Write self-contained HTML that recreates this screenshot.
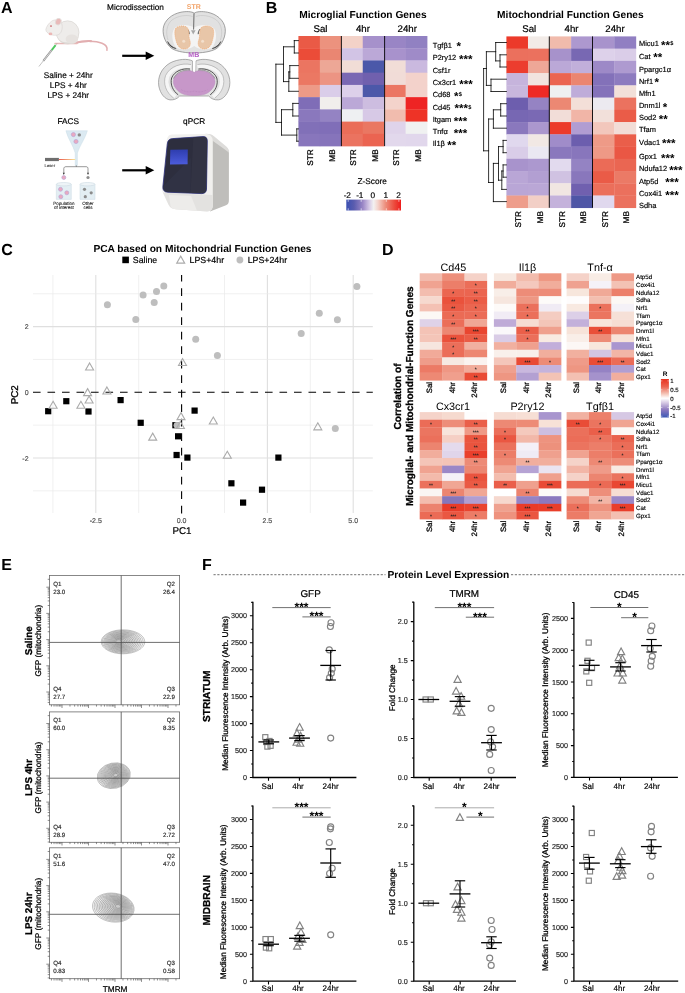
<!DOCTYPE html>
<html lang="en"><head><meta charset="utf-8"><title>Figure</title>
<style>
html,body{margin:0;padding:0;background:#fff}
svg{display:block}
text{font-family:"Liberation Sans",sans-serif;text-rendering:geometricPrecision}
</style></head><body>
<svg width="685" height="993" viewBox="0 0 685 993">
<rect width="685" height="993" fill="#fff"/>
<text x="1.00" y="13.43" font-size="16" font-weight="700">A</text>
<text x="135.50" y="10.45" font-size="8.25" text-anchor="middle" stroke="#000" stroke-width="0.181">Microdissection</text>
<g><path d="M75 43 C84 40.3 96 40.8 102 43.3 C106 45 107.6 47.5 106.9 50.2" fill="none" stroke="#E2AEB0" stroke-width="1.5" stroke-linecap="round"/><path d="M75 43 C80 41.5 86 40.9 91 41.1" fill="none" stroke="#E2AEB0" stroke-width="2.1" stroke-linecap="round"/><path d="M55 43.6 L77 43.6" stroke="#E6B9B7" stroke-width="1.5" stroke-linecap="round"/><ellipse cx="67.6" cy="32.4" rx="11.4" ry="11.6" fill="#EEECEA" stroke="#CFCAC6" stroke-width="0.5"/><path d="M57.5 38 C60 43 66 44.4 72 44 C76 43.6 78.5 40 78.9 35 C78 40 74 42.5 68 42.6 C63 42.6 59.5 41 57.5 38 Z" fill="#DCD7D3"/><ellipse cx="71.8" cy="39" rx="6.2" ry="4.6" fill="#E6E2DF"/><path d="M45.8 29.8 C46 27.2 48.6 23 52 20.9 C55 19.2 59 19.6 61 22.2 C63 25.2 62.4 31 60 33.6 C57 36 52.4 35.6 49.8 34.2 C47.6 33 45.8 31.6 45.8 29.8 Z" fill="#F0EEEC" stroke="#CFCAC6" stroke-width="0.45"/><ellipse cx="58.3" cy="21.7" rx="2.7" ry="3.3" fill="#E9BAB9" stroke="#E2DBD8" stroke-width="0.9" transform="rotate(25 58.3 21.7)"/><circle cx="51" cy="26" r="0.85" fill="#C8545A"/><ellipse cx="50.5" cy="33.9" rx="1.9" ry="1.35" fill="#EBB7B5"/><line x1="38.9" y1="66.5" x2="43.3" y2="60.9" stroke="#9A9A9A" stroke-width="0.6"/><line x1="43.3" y1="60.9" x2="51.7" y2="50.2" stroke="#8E8E8E" stroke-width="1.9"/><line x1="43.6" y1="60.5" x2="51.5" y2="50.5" stroke="#DADADA" stroke-width="1.0"/><line x1="51.7" y1="50.2" x2="55.600" y2="45.200" stroke="#4FC85F" stroke-width="1.9"/><line x1="55.600" y1="45.200" x2="57" y2="43.400" stroke="#909090" stroke-width="0.6"/></g>
<text x="68.30" y="77.55" font-size="8.25" text-anchor="middle" stroke="#000" stroke-width="0.181">Saline + 24hr</text>
<text x="68.30" y="87.60" font-size="8.25" text-anchor="middle" stroke="#000" stroke-width="0.181">LPS + 4hr</text>
<text x="68.30" y="97.65" font-size="8.25" text-anchor="middle" stroke="#000" stroke-width="0.181">LPS + 24hr</text>
<line x1="122.2" y1="55.8" x2="148.3" y2="55.8" stroke="#000" stroke-width="2.2"/><path d="M154.3 55.8 L145.70000000000002 51.599999999999994 L145.70000000000002 60.0 Z" fill="#000"/>
<line x1="122.2" y1="170.3" x2="148.3" y2="170.3" stroke="#000" stroke-width="2.2"/><path d="M154.3 170.3 L145.70000000000002 166.10000000000002 L145.70000000000002 174.5 Z" fill="#000"/>
<text x="193.80" y="9.11" font-size="7" text-anchor="middle" font-weight="700" fill="#F2A267">STR</text>
<g><path d="M 194.2 13.2 C 192 11.4 186 11.2 181 12.2 C 172 14 164.3 20 163.2 28.5 C 162.4 36 166 44 171.5 48.3 C 177 52 188 53.2 194.2 52.8 C 200.4 53.2 211.4 52 216.9 48.3 C 222.4 44 226 36 225.2 28.5 C 224.1 20 216.4 14 207.4 12.2 C 202.4 11.2 196.4 11.4 194.2 13.2 Z" fill="#E1E1E1" stroke="#7E7E7E" stroke-width="0.7"/><path d="M 192.6 16.5 C 187 14.5 178 15.5 172 20 C 166.5 24.5 165.5 33 168 40" fill="none" stroke="#BDBDBD" stroke-width="0.5"/><path d="M 195.8 16.5 C 201.4 14.5 210.4 15.5 216.4 20 C 221.9 24.5 222.9 33 220.4 40" fill="none" stroke="#BDBDBD" stroke-width="0.5"/><path d="M 194.2 27.5 C 189 24.2 178.5 23.5 174.3 28.5 C 171 33.5 172 43 176.5 48 C 182 51.8 190 51.5 194.2 51 C 198.4 51.5 206.4 51.8 211.9 48 C 216.4 43 217.4 33.5 214.1 28.5 C 209.9 23.5 199.4 24.2 194.2 27.5 Z" fill="#F4F4F4"/><path d="M 176.5 48.3 C 182 51.8 190 52 194.2 51.6 C 198.4 52 206.4 51.8 211.9 48.3 C 206 50 199 50 194.2 46 C 189.4 50 182.4 50 176.5 48.3 Z" fill="#E2E2E2"/><line x1="194" y1="13.4" x2="193.6" y2="29.6" stroke="#4A4A4A" stroke-width="0.8"/><path d="M 167.6 41.5 C 169.5 45 172.5 47.3 176.2 48.6 C 172.6 48.2 168.6 45.6 167.6 41.5 Z" fill="#3C3C3C" stroke="#3C3C3C" stroke-width="0.5"/><path d="M 220.8 41.5 C 218.9 45 215.9 47.3 212.2 48.6 C 215.8 48.2 219.8 45.6 220.8 41.5 Z" fill="#3C3C3C" stroke="#3C3C3C" stroke-width="0.5"/><path d="M 187.2 29 C 188.6 30.5 189.3 32.5 189.2 34.2" fill="none" stroke="#3A3A3A" stroke-width="0.9"/><path d="M 200.2 29 C 198.8 30.5 198.1 32.5 198.2 34.2" fill="none" stroke="#3A3A3A" stroke-width="0.9"/><path d="M 191 30.2 L 193.2 34.4 L 195.6 30.2 Z" fill="#A8A8A8"/><path d="M 175.6 28.6 C 177.5 25.6 184.5 25 187.2 27.6 C 189.8 30.5 188.2 35.5 189.6 39.5 C 191.2 44 190.2 48.3 185.2 49 C 180.8 49.4 177.8 46.6 176.5 42 C 175.2 37.5 174 32 175.6 28.6 Z" fill="#E8C6A8" stroke="#F0A468" stroke-width="0.7" stroke-dasharray="1.1 0.9"/><path d="M 212.9 28.6 C 211 25.6 204 25 201.300 27.600 C 198.700 30.500 200.300 35.500 198.900 39.500 C 197.300 44 198.300 48.300 203.300 49 C 207.700 49.400 210.700 46.600 212 42 C 213.300 37.500 214.500 32 212.900 28.600 Z" fill="#E8C6A8" stroke="#F0A468" stroke-width="0.7" stroke-dasharray="1.1 0.9"/><circle cx="183.700" cy="41.300" r="1.500" fill="#F3DFCC"/><circle cx="202.600" cy="41.300" r="1.500" fill="#F3DFCC"/></g>
<text x="193.80" y="57.41" font-size="7" text-anchor="middle" font-weight="700" fill="#B45CC4">MB</text>
<g><path d="M 192.6 61 C 188 58.4 178 58.8 170 63 C 161.500 68 157.400 77 158.800 86 C 160.300 94 165 99.200 170 99.900 C 174 100.200 177.600 98.600 179.600 96 L 208.800 96 C 210.800 98.600 214.400 100.200 218.400 99.900 C 223.400 99.200 228.100 94 229.600 86 C 231 77 226.900 68 218.400 63 C 210.400 58.800 200.400 58.400 195.800 61 L 195.600 73 L 192.800 73 Z" fill="#E1E1E1" stroke="#8E8E8E" stroke-width="0.7"/><path d="M 192.9 60.800 L 195.500 60.800 L 195.300 72 L 193.100 72 Z" fill="#fff"/><path d="M 191 66.600 C 183 64.800 172 67.500 167.500 76 C 164.800 83.500 167.800 91.500 175.300 96.800" fill="none" stroke="#F6F6F6" stroke-width="3.800"/><path d="M 197.400 66.600 C 205.400 64.800 216.400 67.500 220.900 76 C 223.600 83.500 220.600 91.500 213.100 96.800" fill="none" stroke="#F6F6F6" stroke-width="3.800"/><path d="M 191 64.600 C 182 62.600 170 66 165.600 75.500 C 162.800 83.500 166 92.500 173.800 98.200" fill="none" stroke="#8A8A8A" stroke-width="0.450"/><path d="M 197.400 64.600 C 206.400 62.600 218.400 66 222.800 75.500 C 225.600 83.500 222.400 92.500 214.600 98.200" fill="none" stroke="#8A8A8A" stroke-width="0.450"/><path d="M 190 69 C 182.500 68 174.500 71 171.600 78 C 170 84.500 172.800 90.800 178.200 94.800" fill="none" stroke="#2E2E2E" stroke-width="0.800"/><path d="M 198.400 69 C 205.900 68 213.900 71 216.800 78 C 218.400 84.500 215.600 90.800 210.200 94.800" fill="none" stroke="#2E2E2E" stroke-width="0.800"/><path d="M 190 70.200 C 183 69.500 176.500 72 173.600 78.500 C 176 74.500 182 72.800 188 73.600 Z" fill="#C4C4C4" stroke="#555" stroke-width="0.400"/><path d="M 198.400 70.200 C 205.400 69.500 211.900 72 214.800 78.500 C 212.400 74.500 206.400 72.800 200.400 73.600 Z" fill="#C4C4C4" stroke="#555" stroke-width="0.400"/><path d="M 194.200 72.400 C 192.500 70.600 188 70.200 183.200 71.600 C 177.500 73.400 173.600 77 173.400 81.500 C 173.300 85.500 176 89.500 180.500 92.800 C 184 95 189 95.700 194.200 95.500 C 199.400 95.700 204.400 95 207.900 92.800 C 212.400 89.500 215.100 85.500 215 81.500 C 214.800 77 210.900 73.400 205.200 71.600 C 200.400 70.200 195.900 70.600 194.200 72.400 Z" fill="#C797C9" stroke="#B98ABC" stroke-width="0.500"/><path d="M 181 89.500 C 185 92.200 190 92.500 194.200 91 C 198.400 92.500 203.400 92.200 207.400 89.500" fill="none" stroke="#B684BB" stroke-width="0.500" stroke-dasharray="2 1"/></g>
<text x="68.30" y="123.95" font-size="8.25" text-anchor="middle" stroke="#000" stroke-width="0.181">FACS</text>
<g><defs><linearGradient id="lz" x1="0" x2="1" y1="0" y2="0"><stop offset="0" stop-color="#E8483C"/><stop offset="1" stop-color="#F7E08A"/></linearGradient></defs><path d="M65.900 130.700 L87.400 130.700 C85.500 138 79.500 146 77.400 153 L77.400 165.400 L75.200 165.400 L75.200 153 C73.500 146 67.500 138 65.900 130.700 Z" fill="#DCEAF2" stroke="#C5D8E3" stroke-width="0.4"/><circle cx="73.400" cy="134.600" r="2.100" fill="#E9A9C0" stroke="#B6A2D6" stroke-width="0.6"/><circle cx="76" cy="141.500" r="2.100" fill="#E9A9C0" stroke="#B6A2D6" stroke-width="0.6"/><circle cx="79.300" cy="134.900" r="1.700" fill="#8C8C8C"/><rect x="45" y="157.900" width="13.900" height="3.200" fill="#6E6E6E"/><rect x="58.900" y="159.100" width="16.300" height="0.9" fill="url(#lz)"/><text x="44.60" y="166.70" font-size="4.2" fill="#333" stroke="#333" stroke-width="0.092">Laser</text><path d="M76.300 165.400 L76.300 166.700 M63.800 173.600 L63.800 168.600 C63.800 167.300 64.800 166.700 66 166.700 L86 166.700 C87.200 166.700 88 167.300 88 168.600 L88 173.600" fill="none" stroke="#333" stroke-width="0.5"/><path d="M63.800 175 L62.800 172.800 L64.800 172.800 Z M88 175 L87 172.800 L89 172.800 Z" fill="#333"/><circle cx="63.800" cy="177.500" r="2" fill="#E9A9C0" stroke="#B6A2D6" stroke-width="0.6"/><circle cx="88" cy="177.500" r="1.600" fill="#8C8C8C"/><path d="M56.3 184.200 L56.3 199.400 L71.3 199.400 L71.3 184.200" fill="#E3EEF3" stroke="#C9D9E2" stroke-width="0.5"/><ellipse cx="63.8" cy="184.200" rx="7.500" ry="1.700" fill="#EEF4F7" stroke="#C3D3DC" stroke-width="0.5"/><circle cx="60.5" cy="189.3" r="2" fill="#E9A9C0" stroke="#B6A2D6" stroke-width="0.6"/><circle cx="66.8" cy="192.8" r="2" fill="#E9A9C0" stroke="#B6A2D6" stroke-width="0.6"/><circle cx="60.8" cy="196.7" r="2" fill="#E9A9C0" stroke="#B6A2D6" stroke-width="0.6"/><path d="M80 184.200 L80 199.400 L95 199.400 L95 184.200" fill="#E3EEF3" stroke="#C9D9E2" stroke-width="0.5"/><ellipse cx="87.5" cy="184.200" rx="7.500" ry="1.700" fill="#EEF4F7" stroke="#C3D3DC" stroke-width="0.5"/><circle cx="84.5" cy="189.3" r="1.600" fill="#8C8C8C"/><circle cx="91.2" cy="192.8" r="1.600" fill="#8C8C8C"/><circle cx="85.3" cy="196.7" r="1.600" fill="#8C8C8C"/><text x="63.80" y="204.51" font-size="4.5" text-anchor="middle" fill="#222" stroke="#222" stroke-width="0.099">Population</text><text x="63.80" y="209.41" font-size="4.5" text-anchor="middle" fill="#222" stroke="#222" stroke-width="0.099">of interest</text><text x="88.00" y="204.51" font-size="4.5" text-anchor="middle" fill="#222" stroke="#222" stroke-width="0.099">Other</text><text x="88.00" y="209.41" font-size="4.5" text-anchor="middle" fill="#222" stroke="#222" stroke-width="0.099">cells</text></g>
<text x="194.10" y="123.95" font-size="8.25" text-anchor="middle" stroke="#000" stroke-width="0.181">qPCR</text>
<g><defs><linearGradient id="scr" x1="0" x2="0" y1="0" y2="1"><stop offset="0" stop-color="#2E3DAE"/><stop offset="1" stop-color="#4C5CDC"/></linearGradient></defs><path d="M 210 135 L 226.200 147.200 C 228.200 148.700 228.900 150.200 228.900 153 L 228.900 200 C 228.900 203 228 204.400 226 205.200 L 210 211.400 Z" fill="#BFBEBB"/><path d="M 205 133.900 C 209 133.700 211.500 134.300 214 136.200 L 226.600 146.800 C 228.300 148.300 228.900 150 228.900 152.500 L 223.500 148.600 L 212.200 140.500 Z" fill="#DDDCDA"/><path d="M 172 134.600 L 205 133.900 C 210 133.900 212.800 136.500 212.800 141 L 212.800 205 C 212.800 209 211 211.300 207 211.500 L 176 209.300 C 172 209 170 207.500 168.500 204.500 L 163 193 C 162 191 161.800 189 162 187 L 166.500 142 C 167 137 168.500 134.800 172 134.600 Z" fill="#F1F0EE"/><path d="M 163 192.500 L 212.800 195 L 212.800 205 C 212.800 209 211 211.300 207 211.500 L 176 209.300 C 172 209 170 207.500 168.500 204.500 Z" fill="#E3E2E0"/><path d="M 169 195 L 191 196 L 197 210.800 L 176 209.300 C 173 209 171.500 208 170.500 206 Z" fill="#EDECEA"/><path d="M 172.500 138.600 L 203 136.600 C 205.800 136.500 207.300 138 207.300 141 L 206.500 189 C 206.400 192 204.800 193.600 201.800 193.600 L 167.500 192.200 C 164.200 192 162.600 190 162.900 186.800 L 167.300 144 C 167.700 140.500 169.300 138.800 172.500 138.600 Z" fill="#2D2E3E" stroke="#2B2E7C" stroke-width="0.800"/><path d="M 193.300 137.500 L 203 136.900 C 205.600 136.800 207 138.200 207 141 L 206.200 189 C 206.100 191.800 204.600 193.300 201.800 193.300 L 190.500 192.900 Z" fill="#323343"/><path d="M 163.300 186 L 190.900 158 L 190.500 192.900 L 167.500 191.900 C 164.500 191.700 163 189.500 163.300 186 Z" fill="#323447" opacity="0.7"/><path d="M 170.300 149.800 L 187.800 149.400 L 187.600 164.200 L 170 164.500 Z" fill="url(#scr)"/></g>
<text x="265.80" y="13.33" font-size="16" font-weight="700">B</text>
<text x="299.20" y="18.35" font-size="10.2" font-weight="700">Microglial Function Genes</text>
<text x="320.50" y="31.67" font-size="9.7" text-anchor="middle" stroke="#000" stroke-width="0.213">Sal</text>
<text x="363.00" y="31.67" font-size="9.7" text-anchor="middle" stroke="#000" stroke-width="0.213">4hr</text>
<text x="407.30" y="31.67" font-size="9.7" text-anchor="middle" stroke="#000" stroke-width="0.213">24hr</text>
<rect x="298.40" y="36.00" width="21.75" height="12.53" fill="#EA5A46"/><rect x="319.85" y="36.00" width="21.75" height="12.53" fill="#EC927E"/><rect x="341.30" y="36.00" width="21.75" height="12.53" fill="#F3D2C8"/><rect x="362.75" y="36.00" width="21.75" height="12.53" fill="#A691CB"/><rect x="384.20" y="36.00" width="21.75" height="12.53" fill="#9985C5"/><rect x="405.65" y="36.00" width="21.75" height="12.53" fill="#9181C2"/><rect x="298.40" y="48.23" width="21.75" height="12.53" fill="#EB4C38"/><rect x="319.85" y="48.23" width="21.75" height="12.53" fill="#EA8672"/><rect x="341.30" y="48.23" width="21.75" height="12.53" fill="#D2C4E5"/><rect x="362.75" y="48.23" width="21.75" height="12.53" fill="#BBA8D7"/><rect x="384.20" y="48.23" width="21.75" height="12.53" fill="#A892CC"/><rect x="405.65" y="48.23" width="21.75" height="12.53" fill="#9F8BC8"/><rect x="298.40" y="60.46" width="21.75" height="12.53" fill="#EB7561"/><rect x="319.85" y="60.46" width="21.75" height="12.53" fill="#EDA796"/><rect x="341.30" y="60.46" width="21.75" height="12.53" fill="#F1DDD6"/><rect x="362.75" y="60.46" width="21.75" height="12.53" fill="#4B58A9"/><rect x="384.20" y="60.46" width="21.75" height="12.53" fill="#F1DDD7"/><rect x="405.65" y="60.46" width="21.75" height="12.53" fill="#CAB9DF"/><rect x="298.40" y="72.69" width="21.75" height="12.53" fill="#EB7863"/><rect x="319.85" y="72.69" width="21.75" height="12.53" fill="#EC9483"/><rect x="341.30" y="72.69" width="21.75" height="12.53" fill="#7A68B3"/><rect x="362.75" y="72.69" width="21.75" height="12.53" fill="#7060AE"/><rect x="384.20" y="72.69" width="21.75" height="12.53" fill="#F1DCD7"/><rect x="405.65" y="72.69" width="21.75" height="12.53" fill="#F3D2CB"/><rect x="298.40" y="84.92" width="21.75" height="12.53" fill="#ED9A87"/><rect x="319.85" y="84.92" width="21.75" height="12.53" fill="#DACDE9"/><rect x="341.30" y="84.92" width="21.75" height="12.53" fill="#DDD0EA"/><rect x="362.75" y="84.92" width="21.75" height="12.53" fill="#4C58A9"/><rect x="384.20" y="84.92" width="21.75" height="12.53" fill="#EB7663"/><rect x="405.65" y="84.92" width="21.75" height="12.53" fill="#F3D2CB"/><rect x="298.40" y="97.15" width="21.75" height="12.53" fill="#7F6DB7"/><rect x="319.85" y="97.15" width="21.75" height="12.53" fill="#F1EEEC"/><rect x="341.30" y="97.15" width="21.75" height="12.53" fill="#BBA8D7"/><rect x="362.75" y="97.15" width="21.75" height="12.53" fill="#CDBDE0"/><rect x="384.20" y="97.15" width="21.75" height="12.53" fill="#F3D3CB"/><rect x="405.65" y="97.15" width="21.75" height="12.53" fill="#EE2424"/><rect x="298.40" y="109.38" width="21.75" height="12.53" fill="#8A78BD"/><rect x="319.85" y="109.38" width="21.75" height="12.53" fill="#9483C3"/><rect x="341.30" y="109.38" width="21.75" height="12.53" fill="#EEF0F2"/><rect x="362.75" y="109.38" width="21.75" height="12.53" fill="#D7C9E6"/><rect x="384.20" y="109.38" width="21.75" height="12.53" fill="#F1BCAE"/><rect x="405.65" y="109.38" width="21.75" height="12.53" fill="#EE3326"/><rect x="298.40" y="121.61" width="21.75" height="12.53" fill="#8170B8"/><rect x="319.85" y="121.61" width="21.75" height="12.53" fill="#806EB8"/><rect x="341.30" y="121.61" width="21.75" height="12.53" fill="#EA6D58"/><rect x="362.75" y="121.61" width="21.75" height="12.53" fill="#EA7762"/><rect x="384.20" y="121.61" width="21.75" height="12.53" fill="#DFD3EA"/><rect x="405.65" y="121.61" width="21.75" height="12.53" fill="#F0F1F1"/><rect x="298.40" y="133.84" width="21.75" height="12.53" fill="#8876BC"/><rect x="319.85" y="133.84" width="21.75" height="12.53" fill="#8674BB"/><rect x="341.30" y="133.84" width="21.75" height="12.53" fill="#EB7360"/><rect x="362.75" y="133.84" width="21.75" height="12.53" fill="#EB6451"/><rect x="384.20" y="133.84" width="21.75" height="12.53" fill="#E2D8EC"/><rect x="405.65" y="133.84" width="21.75" height="12.53" fill="#E1D7EC"/>
<line x1="341.40" y1="36.00" x2="341.40" y2="146.07" stroke="#000" stroke-width="0.9"/>
<line x1="384.60" y1="36.00" x2="384.60" y2="146.07" stroke="#000" stroke-width="0.9"/>
<path d="M298.4 40.6 L294.3 40.6 M298.4 53.0 L294.3 53.0 M294.3 40.6 L294.3 53.0 M298.4 65.6 L289.8 65.6 M298.4 78.3 L289.8 78.3 M289.8 65.6 L289.8 78.3 M289.8 71.9 L288.8 71.9 M298.4 91.3 L288.8 91.3 M288.8 71.9 L288.8 91.3 M294.3 46.8 L283.5 46.8 M288.8 81.6 L283.5 81.6 M283.5 46.8 L283.5 81.6 M298.4 103.4 L292.8 103.4 M298.4 116.0 L292.8 116.0 M292.8 103.4 L292.8 116.0 M298.4 128.9 L296.8 128.9 M298.4 141.2 L296.8 141.2 M296.8 128.9 L296.8 141.2 M292.8 109.7 L281.5 109.7 M296.8 135.1 L281.5 135.1 M281.5 109.7 L281.5 135.1 M283.5 64.2 L275.9 64.2 M281.5 122.4 L275.9 122.4 M275.9 64.2 L275.9 122.4" fill="none" stroke="#000" stroke-width="0.8" stroke-linecap="square"/>
<text x="432.70" y="47.57" font-size="7.45" stroke="#000" stroke-width="0.164">Tgfβ1</text><text x="456.60" y="50.20" font-size="11.5" font-weight="700">*</text>
<text x="432.70" y="60.47" font-size="7.45" stroke="#000" stroke-width="0.164">P2ry12</text><text x="459.00" y="63.10" font-size="11.5" font-weight="700">***</text>
<text x="432.70" y="72.87" font-size="7.45" stroke="#000" stroke-width="0.164">Csf1r</text>
<text x="432.70" y="85.27" font-size="7.45" stroke="#000" stroke-width="0.164">Cx3cr1</text><text x="459.30" y="87.90" font-size="11.5" font-weight="700">***</text>
<text x="432.70" y="97.07" font-size="7.45" stroke="#000" stroke-width="0.164">Cd68</text><text x="454.00" y="99.70" font-size="11.5" font-weight="700">*</text><text x="458.77" y="96.30" font-size="5.6" font-weight="700">$</text>
<text x="432.70" y="109.67" font-size="7.45" stroke="#000" stroke-width="0.164">Cd45</text><text x="454.60" y="112.30" font-size="11.5" font-weight="700">***</text><text x="468.32" y="108.90" font-size="5.6" font-weight="700">$</text>
<text x="432.70" y="121.87" font-size="7.45" stroke="#000" stroke-width="0.164">Itgam</text><text x="453.80" y="124.50" font-size="11.5" font-weight="700">***</text>
<text x="432.70" y="133.97" font-size="7.45" stroke="#000" stroke-width="0.164">Tnfα</text><text x="453.80" y="136.60" font-size="11.5" font-weight="700">***</text>
<text x="432.70" y="146.27" font-size="7.45" stroke="#000" stroke-width="0.164">Il1β</text><text x="447.20" y="148.90" font-size="11.5" font-weight="700">**</text>
<text transform="translate(313.28 149.30) rotate(-90)" font-size="8.25" text-anchor="end" stroke="#000" stroke-width="0.281">STR</text>
<text transform="translate(334.73 149.30) rotate(-90)" font-size="8.25" text-anchor="end" stroke="#000" stroke-width="0.281">MB</text>
<text transform="translate(356.18 149.30) rotate(-90)" font-size="8.25" text-anchor="end" stroke="#000" stroke-width="0.281">STR</text>
<text transform="translate(377.63 149.30) rotate(-90)" font-size="8.25" text-anchor="end" stroke="#000" stroke-width="0.281">MB</text>
<text transform="translate(399.08 149.30) rotate(-90)" font-size="8.25" text-anchor="end" stroke="#000" stroke-width="0.281">STR</text>
<text transform="translate(420.53 149.30) rotate(-90)" font-size="8.25" text-anchor="end" stroke="#000" stroke-width="0.281">MB</text>
<text x="372.20" y="184.45" font-size="8.25" text-anchor="middle" stroke="#000" stroke-width="0.181">Z-Score</text>
<text x="347.30" y="197.55" font-size="8.25" text-anchor="middle" stroke="#000" stroke-width="0.181">-2</text>
<text x="359.80" y="197.55" font-size="8.25" text-anchor="middle" stroke="#000" stroke-width="0.181">-1</text>
<text x="372.90" y="197.55" font-size="8.25" text-anchor="middle" stroke="#000" stroke-width="0.181">0</text>
<text x="385.90" y="197.55" font-size="8.25" text-anchor="middle" stroke="#000" stroke-width="0.181">1</text>
<text x="398.60" y="197.55" font-size="8.25" text-anchor="middle" stroke="#000" stroke-width="0.181">2</text>
<defs><linearGradient id="zs" x1="0" x2="1" y1="0" y2="0"><stop offset="0" stop-color="#3A4FB2"/><stop offset="0.14" stop-color="#5A5CAE"/><stop offset="0.3" stop-color="#9A86C6"/><stop offset="0.42" stop-color="#D6C9E6"/><stop offset="0.5" stop-color="#F3F1F1"/><stop offset="0.58" stop-color="#F4D2CA"/><stop offset="0.72" stop-color="#EC8C7A"/><stop offset="0.88" stop-color="#EC4A3C"/><stop offset="1" stop-color="#EE1C1C"/></linearGradient></defs>
<rect x="346.30" y="199.60" width="54.70" height="10.90" fill="url(#zs)"/>
<line x1="348.20" y1="199.60" x2="348.20" y2="201.80" stroke="#fff" stroke-width="0.6"/>
<line x1="348.20" y1="208.30" x2="348.20" y2="210.50" stroke="#fff" stroke-width="0.6"/>
<line x1="361.20" y1="199.60" x2="361.20" y2="201.80" stroke="#fff" stroke-width="0.6"/>
<line x1="361.20" y1="208.30" x2="361.20" y2="210.50" stroke="#fff" stroke-width="0.6"/>
<line x1="386.30" y1="199.60" x2="386.30" y2="201.80" stroke="#fff" stroke-width="0.6"/>
<line x1="386.30" y1="208.30" x2="386.30" y2="210.50" stroke="#fff" stroke-width="0.6"/>
<line x1="398.90" y1="199.60" x2="398.90" y2="201.80" stroke="#fff" stroke-width="0.6"/>
<line x1="398.90" y1="208.30" x2="398.90" y2="210.50" stroke="#fff" stroke-width="0.6"/>
<text x="497.10" y="18.25" font-size="10.2" font-weight="700">Mitochondrial Function Genes</text>
<text x="529.20" y="31.87" font-size="9.7" text-anchor="middle" stroke="#000" stroke-width="0.213">Sal</text>
<text x="571.60" y="31.87" font-size="9.7" text-anchor="middle" stroke="#000" stroke-width="0.213">4hr</text>
<text x="615.00" y="31.87" font-size="9.7" text-anchor="middle" stroke="#000" stroke-width="0.213">24hr</text>
<rect x="506.40" y="36.40" width="21.88" height="12.54" fill="#EC3A2A"/><rect x="527.98" y="36.40" width="21.88" height="12.54" fill="#F2EBE7"/><rect x="549.56" y="36.40" width="21.88" height="12.54" fill="#F1BBAC"/><rect x="571.14" y="36.40" width="21.88" height="12.54" fill="#AD98CF"/><rect x="592.72" y="36.40" width="21.88" height="12.54" fill="#A893CC"/><rect x="614.30" y="36.40" width="21.88" height="12.54" fill="#917FC2"/><rect x="506.40" y="48.64" width="21.88" height="12.54" fill="#EB705D"/><rect x="527.98" y="48.64" width="21.88" height="12.54" fill="#EB715E"/><rect x="549.56" y="48.64" width="21.88" height="12.54" fill="#A792CB"/><rect x="571.14" y="48.64" width="21.88" height="12.54" fill="#7868B3"/><rect x="592.72" y="48.64" width="21.88" height="12.54" fill="#DDD1EA"/><rect x="614.30" y="48.64" width="21.88" height="12.54" fill="#DACDE8"/><rect x="506.40" y="60.88" width="21.88" height="12.54" fill="#EC3D2E"/><rect x="527.98" y="60.88" width="21.88" height="12.54" fill="#EEA797"/><rect x="549.56" y="60.88" width="21.88" height="12.54" fill="#BBA8D7"/><rect x="571.14" y="60.88" width="21.88" height="12.54" fill="#C1AFDA"/><rect x="592.72" y="60.88" width="21.88" height="12.54" fill="#9D89C7"/><rect x="614.30" y="60.88" width="21.88" height="12.54" fill="#AE9AD0"/><rect x="506.40" y="73.12" width="21.88" height="12.54" fill="#C6B4DC"/><rect x="527.98" y="73.12" width="21.88" height="12.54" fill="#F1E4DF"/><rect x="549.56" y="73.12" width="21.88" height="12.54" fill="#EB6551"/><rect x="571.14" y="73.12" width="21.88" height="12.54" fill="#EB8570"/><rect x="592.72" y="73.12" width="21.88" height="12.54" fill="#8371B9"/><rect x="614.30" y="73.12" width="21.88" height="12.54" fill="#8D7BBF"/><rect x="506.40" y="85.36" width="21.88" height="12.54" fill="#C8B7DD"/><rect x="527.98" y="85.36" width="21.88" height="12.54" fill="#EE2A26"/><rect x="549.56" y="85.36" width="21.88" height="12.54" fill="#EFF0F1"/><rect x="571.14" y="85.36" width="21.88" height="12.54" fill="#BFACD9"/><rect x="592.72" y="85.36" width="21.88" height="12.54" fill="#8472BA"/><rect x="614.30" y="85.36" width="21.88" height="12.54" fill="#F2E0D9"/><rect x="506.40" y="97.60" width="21.88" height="12.54" fill="#6D5EAE"/><rect x="527.98" y="97.60" width="21.88" height="12.54" fill="#9583C3"/><rect x="549.56" y="97.60" width="21.88" height="12.54" fill="#EC8873"/><rect x="571.14" y="97.60" width="21.88" height="12.54" fill="#F3DFD8"/><rect x="592.72" y="97.60" width="21.88" height="12.54" fill="#ECEAF0"/><rect x="614.30" y="97.60" width="21.88" height="12.54" fill="#EB725F"/><rect x="506.40" y="109.84" width="21.88" height="12.54" fill="#7767B3"/><rect x="527.98" y="109.84" width="21.88" height="12.54" fill="#7A69B4"/><rect x="549.56" y="109.84" width="21.88" height="12.54" fill="#F2DDD8"/><rect x="571.14" y="109.84" width="21.88" height="12.54" fill="#F1B5A7"/><rect x="592.72" y="109.84" width="21.88" height="12.54" fill="#F2E0DA"/><rect x="614.30" y="109.84" width="21.88" height="12.54" fill="#EA5C48"/><rect x="506.40" y="122.08" width="21.88" height="12.54" fill="#8A78BD"/><rect x="527.98" y="122.08" width="21.88" height="12.54" fill="#AB97CE"/><rect x="549.56" y="122.08" width="21.88" height="12.54" fill="#EC3A2A"/><rect x="571.14" y="122.08" width="21.88" height="12.54" fill="#B19DD2"/><rect x="592.72" y="122.08" width="21.88" height="12.54" fill="#F2C7BC"/><rect x="614.30" y="122.08" width="21.88" height="12.54" fill="#F2DDD7"/><rect x="506.40" y="134.32" width="21.88" height="12.54" fill="#E0D8EE"/><rect x="527.98" y="134.32" width="21.88" height="12.54" fill="#F1E8E4"/><rect x="549.56" y="134.32" width="21.88" height="12.54" fill="#A08CC9"/><rect x="571.14" y="134.32" width="21.88" height="12.54" fill="#6C5EAE"/><rect x="592.72" y="134.32" width="21.88" height="12.54" fill="#EE9A87"/><rect x="614.30" y="134.32" width="21.88" height="12.54" fill="#EA5E4A"/><rect x="506.40" y="146.56" width="21.88" height="12.54" fill="#D9CDE8"/><rect x="527.98" y="146.56" width="21.88" height="12.54" fill="#EAE8F2"/><rect x="549.56" y="146.56" width="21.88" height="12.54" fill="#8A78BD"/><rect x="571.14" y="146.56" width="21.88" height="12.54" fill="#8876BC"/><rect x="592.72" y="146.56" width="21.88" height="12.54" fill="#EE9986"/><rect x="614.30" y="146.56" width="21.88" height="12.54" fill="#EA5744"/><rect x="506.40" y="158.80" width="21.88" height="12.54" fill="#A893CC"/><rect x="527.98" y="158.80" width="21.88" height="12.54" fill="#AC98CF"/><rect x="549.56" y="158.80" width="21.88" height="12.54" fill="#E2DAEE"/><rect x="571.14" y="158.80" width="21.88" height="12.54" fill="#9483C3"/><rect x="592.72" y="158.80" width="21.88" height="12.54" fill="#EB6B57"/><rect x="614.30" y="158.80" width="21.88" height="12.54" fill="#EA6652"/><rect x="506.40" y="171.04" width="21.88" height="12.54" fill="#B9A6D6"/><rect x="527.98" y="171.04" width="21.88" height="12.54" fill="#B29FD2"/><rect x="549.56" y="171.04" width="21.88" height="12.54" fill="#D0C2E2"/><rect x="571.14" y="171.04" width="21.88" height="12.54" fill="#8977BC"/><rect x="592.72" y="171.04" width="21.88" height="12.54" fill="#EA5B47"/><rect x="614.30" y="171.04" width="21.88" height="12.54" fill="#EB7A66"/><rect x="506.40" y="183.28" width="21.88" height="12.54" fill="#B9A6D6"/><rect x="527.98" y="183.28" width="21.88" height="12.54" fill="#BAA7D6"/><rect x="549.56" y="183.28" width="21.88" height="12.54" fill="#F1E6E2"/><rect x="571.14" y="183.28" width="21.88" height="12.54" fill="#7060AF"/><rect x="592.72" y="183.28" width="21.88" height="12.54" fill="#EB6F5B"/><rect x="614.30" y="183.28" width="21.88" height="12.54" fill="#EB705D"/><rect x="506.40" y="195.52" width="21.88" height="12.54" fill="#EE9D8B"/><rect x="527.98" y="195.52" width="21.88" height="12.54" fill="#F2CFC6"/><rect x="549.56" y="195.52" width="21.88" height="12.54" fill="#C4B2DB"/><rect x="571.14" y="195.52" width="21.88" height="12.54" fill="#4F56A6"/><rect x="592.72" y="195.52" width="21.88" height="12.54" fill="#E0D8EE"/><rect x="614.30" y="195.52" width="21.88" height="12.54" fill="#EB715E"/>
<line x1="549.30" y1="36.40" x2="549.30" y2="207.76" stroke="#000" stroke-width="0.9"/>
<line x1="592.50" y1="36.40" x2="592.50" y2="207.76" stroke="#000" stroke-width="0.9"/>
<path d="M506.4 54.8 L500.0 54.8 M506.4 67.0 L500.0 67.0 M500.0 54.8 L500.0 67.0 M506.4 42.5 L495.7 42.5 M500.0 60.9 L495.7 60.9 M495.7 42.5 L495.7 60.9 M506.4 79.2 L491.0 79.2 M506.4 91.5 L491.0 91.5 M491.0 79.2 L491.0 91.5 M495.7 51.7 L486.4 51.7 M491.0 85.4 L486.4 85.4 M486.4 51.7 L486.4 85.4 M506.4 103.7 L500.7 103.7 M506.4 116.0 L500.7 116.0 M500.7 103.7 L500.7 116.0 M500.7 109.8 L493.4 109.8 M506.4 128.2 L493.4 128.2 M493.4 109.8 L493.4 128.2 M506.4 140.4 L503.1 140.4 M506.4 152.7 L503.1 152.7 M503.1 140.4 L503.1 152.7 M506.4 164.9 L503.1 164.9 M506.4 177.2 L503.1 177.2 M503.1 164.9 L503.1 177.2 M503.1 171.0 L501.8 171.0 M506.4 189.4 L501.8 189.4 M501.8 171.0 L501.8 189.4 M503.1 146.6 L498.5 146.6 M501.8 180.2 L498.5 180.2 M498.5 146.6 L498.5 180.2 M498.5 163.4 L493.4 163.4 M506.4 201.6 L493.4 201.6 M493.4 163.4 L493.4 201.6 M493.4 119.0 L488.6 119.0 M493.4 182.5 L488.6 182.5 M488.6 119.0 L488.6 182.5 M486.4 68.5 L483.6 68.5 M488.6 150.8 L483.6 150.8 M483.6 68.5 L483.6 150.8" fill="none" stroke="#000" stroke-width="0.8" stroke-linecap="square"/>
<text x="639.00" y="46.17" font-size="7.45" stroke="#000" stroke-width="0.164">Micu1</text><text x="660.93" y="48.80" font-size="11.5" font-weight="700">**</text><text x="670.17" y="45.40" font-size="5.6" font-weight="700">$</text>
<text x="639.00" y="58.77" font-size="7.45" stroke="#000" stroke-width="0.164">Cat</text><text x="653.28" y="61.40" font-size="11.5" font-weight="700">**</text>
<text x="639.00" y="71.67" font-size="7.45" stroke="#000" stroke-width="0.164">Ppargc1α</text>
<text x="639.00" y="83.67" font-size="7.45" stroke="#000" stroke-width="0.164">Nrf1</text><text x="654.43" y="86.30" font-size="11.5" font-weight="700">*</text>
<text x="639.00" y="95.87" font-size="7.45" stroke="#000" stroke-width="0.164">Mfn1</text>
<text x="639.00" y="108.47" font-size="7.45" stroke="#000" stroke-width="0.164">Dnm1l</text><text x="662.65" y="111.10" font-size="11.5" font-weight="700">*</text>
<text x="639.00" y="120.37" font-size="7.45" stroke="#000" stroke-width="0.164">Sod2</text><text x="658.82" y="123.00" font-size="11.5" font-weight="700">**</text>
<text x="639.00" y="132.37" font-size="7.45" stroke="#000" stroke-width="0.164">Tfam</text>
<text x="639.00" y="144.67" font-size="7.45" stroke="#000" stroke-width="0.164">Vdac1</text><text x="662.07" y="147.30" font-size="11.5" font-weight="700">***</text>
<text x="639.00" y="159.17" font-size="7.45" stroke="#000" stroke-width="0.164">Gpx1</text><text x="661.12" y="161.80" font-size="11.5" font-weight="700">***</text>
<text x="639.00" y="170.97" font-size="7.45" stroke="#000" stroke-width="0.164">Ndufa12</text><text x="669.14" y="173.60" font-size="11.5" font-weight="700">***</text>
<text x="639.00" y="183.77" font-size="7.45" stroke="#000" stroke-width="0.164">Atp5d</text><text x="665.32" y="186.40" font-size="11.5" font-weight="700">***</text>
<text x="639.00" y="195.87" font-size="7.45" stroke="#000" stroke-width="0.164">Cox4i1</text><text x="665.32" y="198.50" font-size="11.5" font-weight="700">***</text>
<text x="639.00" y="207.87" font-size="7.45" stroke="#000" stroke-width="0.164">Sdha</text>
<text transform="translate(521.34 211.00) rotate(-90)" font-size="8.25" text-anchor="end" stroke="#000" stroke-width="0.281">STR</text>
<text transform="translate(542.92 211.00) rotate(-90)" font-size="8.25" text-anchor="end" stroke="#000" stroke-width="0.281">MB</text>
<text transform="translate(564.50 211.00) rotate(-90)" font-size="8.25" text-anchor="end" stroke="#000" stroke-width="0.281">STR</text>
<text transform="translate(586.08 211.00) rotate(-90)" font-size="8.25" text-anchor="end" stroke="#000" stroke-width="0.281">MB</text>
<text transform="translate(607.66 211.00) rotate(-90)" font-size="8.25" text-anchor="end" stroke="#000" stroke-width="0.281">STR</text>
<text transform="translate(629.24 211.00) rotate(-90)" font-size="8.25" text-anchor="end" stroke="#000" stroke-width="0.281">MB</text>
<text x="1.20" y="254.53" font-size="16" font-weight="700">C</text>
<text x="93.40" y="251.55" font-size="10.2" font-weight="700">PCA based on Mitochondrial Function Genes</text>
<rect x="122.30" y="256.60" width="6.60" height="6.60" fill="#000"/>
<text x="132.80" y="263.15" font-size="8.8" stroke="#000" stroke-width="0.194">Saline</text>
<path d="M180.70 256.14 L184.70 263.14 L176.70 263.14 Z" fill="none" stroke="#ABABAB" stroke-width="1.1" stroke-linejoin="miter"/>
<text x="189.60" y="263.15" font-size="8.8" stroke="#000" stroke-width="0.194">LPS+4hr</text>
<circle cx="239.9" cy="260" r="3.4" fill="#BEBEBE"/>
<text x="247.70" y="263.15" font-size="8.8" stroke="#000" stroke-width="0.194">LPS+24hr</text>
<line x1="52.90" y1="275.00" x2="52.90" y2="513.00" stroke="#E9E9E9" stroke-width="0.7"/>
<line x1="138.70" y1="275.00" x2="138.70" y2="513.00" stroke="#E9E9E9" stroke-width="0.7"/>
<line x1="224.50" y1="275.00" x2="224.50" y2="513.00" stroke="#E9E9E9" stroke-width="0.7"/>
<line x1="310.30" y1="275.00" x2="310.30" y2="513.00" stroke="#E9E9E9" stroke-width="0.7"/>
<line x1="95.80" y1="275.00" x2="95.80" y2="513.00" stroke="#DFDFDF" stroke-width="1.1"/>
<line x1="267.40" y1="275.00" x2="267.40" y2="513.00" stroke="#DFDFDF" stroke-width="1.1"/>
<line x1="353.20" y1="275.00" x2="353.20" y2="513.00" stroke="#DFDFDF" stroke-width="1.1"/>
<line x1="33.00" y1="293.75" x2="372.80" y2="293.75" stroke="#E9E9E9" stroke-width="0.7"/>
<line x1="33.00" y1="359.45" x2="372.80" y2="359.45" stroke="#E9E9E9" stroke-width="0.7"/>
<line x1="33.00" y1="425.15" x2="372.80" y2="425.15" stroke="#E9E9E9" stroke-width="0.7"/>
<line x1="33.00" y1="490.85" x2="372.80" y2="490.85" stroke="#E9E9E9" stroke-width="0.7"/>
<line x1="33.00" y1="326.60" x2="372.80" y2="326.60" stroke="#DFDFDF" stroke-width="1.1"/>
<line x1="33.00" y1="458.00" x2="372.80" y2="458.00" stroke="#DFDFDF" stroke-width="1.1"/>
<line x1="33.00" y1="392.30" x2="372.80" y2="392.30" stroke="#000" stroke-width="1.1" stroke-dasharray="7.6 6.9"/>
<line x1="181.60" y1="513.40" x2="181.60" y2="275.00" stroke="#000" stroke-width="1.1" stroke-dasharray="7.6 6.9"/>
<text x="28.60" y="329.11" font-size="7.0" text-anchor="end" fill="#4D4D4D" stroke="#4D4D4D" stroke-width="0.154">2</text>
<text x="28.60" y="394.81" font-size="7.0" text-anchor="end" fill="#4D4D4D" stroke="#4D4D4D" stroke-width="0.154">0</text>
<text x="28.60" y="460.51" font-size="7.0" text-anchor="end" fill="#4D4D4D" stroke="#4D4D4D" stroke-width="0.154">-2</text>
<text x="95.80" y="522.91" font-size="7.0" text-anchor="middle" fill="#4D4D4D" stroke="#4D4D4D" stroke-width="0.154">-2.5</text>
<text x="181.60" y="522.91" font-size="7.0" text-anchor="middle" fill="#4D4D4D" stroke="#4D4D4D" stroke-width="0.154">0.0</text>
<text x="267.40" y="522.91" font-size="7.0" text-anchor="middle" fill="#4D4D4D" stroke="#4D4D4D" stroke-width="0.154">2.5</text>
<text x="353.20" y="522.91" font-size="7.0" text-anchor="middle" fill="#4D4D4D" stroke="#4D4D4D" stroke-width="0.154">5.0</text>
<text x="182.00" y="533.71" font-size="9.8" text-anchor="middle" stroke="#000" stroke-width="0.216">PC1</text>
<text transform="translate(18.11 394.80) rotate(-90)" font-size="9.8" text-anchor="middle" stroke="#000" stroke-width="0.333">PC2</text>
<circle cx="107.4" cy="304.8" r="3.5" fill="#BEBEBE"/>
<circle cx="135.8" cy="319.4" r="3.5" fill="#BEBEBE"/>
<circle cx="143.1" cy="294.9" r="3.5" fill="#BEBEBE"/>
<circle cx="154.2" cy="302.5" r="3.5" fill="#BEBEBE"/>
<circle cx="156.5" cy="291.4" r="3.5" fill="#BEBEBE"/>
<circle cx="163.8" cy="286.1" r="3.5" fill="#BEBEBE"/>
<circle cx="195.7" cy="339.3" r="3.5" fill="#BEBEBE"/>
<circle cx="217.4" cy="355.6" r="3.5" fill="#BEBEBE"/>
<circle cx="301.2" cy="333.4" r="3.5" fill="#BEBEBE"/>
<circle cx="319.3" cy="313.3" r="3.5" fill="#BEBEBE"/>
<circle cx="337.4" cy="319.7" r="3.5" fill="#BEBEBE"/>
<circle cx="356.9" cy="286.4" r="3.5" fill="#BEBEBE"/>
<circle cx="335.3" cy="428.4" r="3.5" fill="#BEBEBE"/>
<rect x="45.10" y="408.10" width="6.20" height="6.20" fill="#000"/>
<rect x="63.20" y="398.10" width="6.20" height="6.20" fill="#000"/>
<rect x="85.40" y="408.40" width="6.20" height="6.20" fill="#000"/>
<rect x="117.50" y="397.00" width="6.20" height="6.20" fill="#000"/>
<rect x="137.60" y="419.70" width="6.20" height="6.20" fill="#000"/>
<rect x="172.30" y="422.10" width="6.20" height="6.20" fill="#000"/>
<rect x="175.00" y="433.20" width="6.20" height="6.20" fill="#000"/>
<rect x="173.50" y="451.90" width="6.20" height="6.20" fill="#000"/>
<rect x="184.30" y="454.50" width="6.20" height="6.20" fill="#000"/>
<rect x="191.50" y="407.50" width="6.20" height="6.20" fill="#000"/>
<rect x="275.30" y="454.50" width="6.20" height="6.20" fill="#000"/>
<rect x="228.30" y="480.20" width="6.20" height="6.20" fill="#000"/>
<rect x="258.90" y="486.60" width="6.20" height="6.20" fill="#000"/>
<rect x="240.00" y="499.50" width="6.20" height="6.20" fill="#000"/>
<circle cx="177.0" cy="425.3" r="3.4" fill="#BEBEBE"/>
<path d="M89.60 362.94 L93.60 369.94 L85.60 369.94 Z" fill="none" stroke="#ABABAB" stroke-width="1.1" stroke-linejoin="miter"/>
<path d="M182.50 358.54 L186.50 365.54 L178.50 365.54 Z" fill="none" stroke="#ABABAB" stroke-width="1.1" stroke-linejoin="miter"/>
<path d="M87.60 388.64 L91.60 395.64 L83.60 395.64 Z" fill="none" stroke="#ABABAB" stroke-width="1.1" stroke-linejoin="miter"/>
<path d="M106.90 386.94 L110.90 393.94 L102.90 393.94 Z" fill="none" stroke="#ABABAB" stroke-width="1.1" stroke-linejoin="miter"/>
<path d="M53.10 401.24 L57.10 408.24 L49.10 408.24 Z" fill="none" stroke="#ABABAB" stroke-width="1.1" stroke-linejoin="miter"/>
<path d="M80.90 401.24 L84.90 408.24 L76.90 408.24 Z" fill="none" stroke="#ABABAB" stroke-width="1.1" stroke-linejoin="miter"/>
<path d="M89.10 396.04 L93.10 403.04 L85.10 403.04 Z" fill="none" stroke="#ABABAB" stroke-width="1.1" stroke-linejoin="miter"/>
<path d="M152.70 433.14 L156.70 440.14 L148.70 440.14 Z" fill="none" stroke="#ABABAB" stroke-width="1.1" stroke-linejoin="miter"/>
<path d="M181.00 412.64 L185.00 419.64 L177.00 419.64 Z" fill="none" stroke="#ABABAB" stroke-width="1.1" stroke-linejoin="miter"/>
<path d="M180.40 421.44 L184.40 428.44 L176.40 428.44 Z" fill="none" stroke="#ABABAB" stroke-width="1.1" stroke-linejoin="miter"/>
<path d="M213.30 417.04 L217.30 424.04 L209.30 424.04 Z" fill="none" stroke="#ABABAB" stroke-width="1.1" stroke-linejoin="miter"/>
<path d="M227.30 451.24 L231.30 458.24 L223.30 458.24 Z" fill="none" stroke="#ABABAB" stroke-width="1.1" stroke-linejoin="miter"/>
<path d="M317.80 422.84 L321.80 429.84 L313.80 429.84 Z" fill="none" stroke="#ABABAB" stroke-width="1.1" stroke-linejoin="miter"/>
<text x="382.00" y="254.53" font-size="16" font-weight="700">D</text>
<text transform="translate(401.42 396.50) rotate(-90)" font-size="10.1" text-anchor="middle" font-weight="700" stroke="#000" stroke-width="0.3">Correlation of</text>
<text transform="translate(413.12 396.20) rotate(-90)" font-size="10.1" text-anchor="middle" font-weight="700" stroke="#000" stroke-width="0.3">Microglial- and Mitochondrial-Function Genes</text>
<text x="453.40" y="271.47" font-size="10.8" text-anchor="middle">Cd45</text><rect x="419.70" y="273.30" width="22.65" height="7.89" fill="#F2BCAE"/><rect x="442.10" y="273.30" width="22.65" height="7.89" fill="#ED8F7B"/><rect x="464.50" y="273.30" width="22.65" height="7.89" fill="#F5D2C8"/><rect x="419.70" y="280.94" width="22.65" height="7.89" fill="#F0A391"/><rect x="442.10" y="280.94" width="22.65" height="7.89" fill="#EC7E69"/><rect x="464.50" y="280.94" width="22.65" height="7.89" fill="#EB6E58"/><text x="475.70" y="287.37" font-size="5" text-anchor="middle" font-weight="700" fill="#222">*</text><rect x="419.70" y="288.59" width="22.65" height="7.89" fill="#F3BDAF"/><rect x="442.10" y="288.59" width="22.65" height="7.89" fill="#EB6650"/><text x="453.30" y="295.01" font-size="5" text-anchor="middle" font-weight="700" fill="#222">*</text><rect x="464.50" y="288.59" width="22.65" height="7.89" fill="#EB6550"/><text x="475.70" y="295.01" font-size="5" text-anchor="middle" font-weight="700" fill="#222">**</text><rect x="419.70" y="296.24" width="22.65" height="7.89" fill="#F6D9CF"/><rect x="442.10" y="296.24" width="22.65" height="7.89" fill="#EA523C"/><text x="453.30" y="302.66" font-size="5" text-anchor="middle" font-weight="700" fill="#222">**</text><rect x="464.50" y="296.24" width="22.65" height="7.89" fill="#EB5D47"/><text x="475.70" y="302.66" font-size="5" text-anchor="middle" font-weight="700" fill="#222">**</text><rect x="419.70" y="303.88" width="22.65" height="7.89" fill="#F4C1B4"/><rect x="442.10" y="303.88" width="22.65" height="7.89" fill="#EA5A44"/><text x="453.30" y="310.30" font-size="5" text-anchor="middle" font-weight="700" fill="#222">**</text><rect x="464.50" y="303.88" width="22.65" height="7.89" fill="#EB6650"/><text x="475.70" y="310.30" font-size="5" text-anchor="middle" font-weight="700" fill="#222">*</text><rect x="419.70" y="311.52" width="22.65" height="7.89" fill="#FCF8F5"/><rect x="442.10" y="311.52" width="22.65" height="7.89" fill="#EB6B55"/><text x="453.30" y="317.95" font-size="5" text-anchor="middle" font-weight="700" fill="#222">*</text><rect x="464.50" y="311.52" width="22.65" height="7.89" fill="#EB6C57"/><text x="475.70" y="317.95" font-size="5" text-anchor="middle" font-weight="700" fill="#222">*</text><rect x="419.70" y="319.17" width="22.65" height="7.89" fill="#DFD2E8"/><rect x="442.10" y="319.17" width="22.65" height="7.89" fill="#EB6E59"/><text x="453.30" y="325.59" font-size="5" text-anchor="middle" font-weight="700" fill="#222">**</text><rect x="464.50" y="319.17" width="22.65" height="7.89" fill="#F0A795"/><rect x="419.70" y="326.81" width="22.65" height="7.89" fill="#F4C3B6"/><rect x="442.10" y="326.81" width="22.65" height="7.89" fill="#ED8772"/><rect x="464.50" y="326.81" width="22.65" height="7.89" fill="#E94630"/><text x="475.70" y="333.24" font-size="5" text-anchor="middle" font-weight="700" fill="#222">***</text><rect x="419.70" y="334.46" width="22.65" height="7.89" fill="#F4C5B8"/><rect x="442.10" y="334.46" width="22.65" height="7.89" fill="#EA523C"/><text x="453.30" y="340.88" font-size="5" text-anchor="middle" font-weight="700" fill="#222">***</text><rect x="464.50" y="334.46" width="22.65" height="7.89" fill="#EA5C46"/><text x="475.70" y="340.88" font-size="5" text-anchor="middle" font-weight="700" fill="#222">**</text><rect x="419.70" y="342.11" width="22.65" height="7.89" fill="#F6E6DF"/><rect x="442.10" y="342.11" width="22.65" height="7.89" fill="#EB6F5A"/><text x="453.30" y="348.53" font-size="5" text-anchor="middle" font-weight="700" fill="#222">*</text><rect x="464.50" y="342.11" width="22.65" height="7.89" fill="#F1B0A0"/><rect x="419.70" y="349.75" width="22.65" height="7.89" fill="#F1AA99"/><rect x="442.10" y="349.75" width="22.65" height="7.89" fill="#EB6D58"/><text x="453.30" y="356.17" font-size="5" text-anchor="middle" font-weight="700" fill="#222">*</text><rect x="464.50" y="349.75" width="22.65" height="7.89" fill="#ED8772"/><rect x="419.70" y="357.39" width="22.65" height="7.89" fill="#EF9C8A"/><rect x="442.10" y="357.39" width="22.65" height="7.89" fill="#F6E9E2"/><rect x="464.50" y="357.39" width="22.65" height="7.89" fill="#FAF3F0"/><rect x="419.70" y="365.04" width="22.65" height="7.89" fill="#EC7A65"/><rect x="442.10" y="365.04" width="22.65" height="7.89" fill="#EF9784"/><rect x="464.50" y="365.04" width="22.65" height="7.89" fill="#F1AB9A"/><text x="475.70" y="371.46" font-size="5" text-anchor="middle" font-weight="700" fill="#222">*</text><rect x="419.70" y="372.69" width="22.65" height="7.89" fill="#ED8974"/><rect x="442.10" y="372.69" width="22.65" height="7.89" fill="#F09F8D"/><rect x="464.50" y="372.69" width="22.65" height="7.89" fill="#E94C36"/><text x="475.70" y="379.11" font-size="5" text-anchor="middle" font-weight="700" fill="#222">**</text><text transform="translate(432.19 382.03) rotate(-90)" font-size="7.8" text-anchor="end" stroke="#000" stroke-width="0.265">Sal</text><text transform="translate(454.59 382.03) rotate(-90)" font-size="7.8" text-anchor="end" stroke="#000" stroke-width="0.265">4hr</text><text transform="translate(476.99 382.03) rotate(-90)" font-size="7.8" text-anchor="end" stroke="#000" stroke-width="0.265">24hr</text>
<text x="527.50" y="271.47" font-size="10.8" text-anchor="middle">Il1β</text><rect x="493.90" y="273.30" width="22.65" height="7.89" fill="#F7E8E0"/><rect x="516.30" y="273.30" width="22.65" height="7.89" fill="#F2BBAC"/><rect x="538.70" y="273.30" width="22.65" height="7.89" fill="#EE9782"/><rect x="493.90" y="280.94" width="22.65" height="7.89" fill="#F1AD9C"/><rect x="516.30" y="280.94" width="22.65" height="7.89" fill="#F4C8BD"/><rect x="538.70" y="280.94" width="22.65" height="7.89" fill="#F1AD9B"/><rect x="493.90" y="288.59" width="22.65" height="7.89" fill="#F8EEE8"/><rect x="516.30" y="288.59" width="22.65" height="7.89" fill="#ED8C78"/><rect x="538.70" y="288.59" width="22.65" height="7.89" fill="#ED8C78"/><rect x="493.90" y="296.24" width="22.65" height="7.89" fill="#F6E6DE"/><rect x="516.30" y="296.24" width="22.65" height="7.89" fill="#EE9783"/><rect x="538.70" y="296.24" width="22.65" height="7.89" fill="#FDFBF9"/><rect x="493.90" y="303.88" width="22.65" height="7.89" fill="#FDFAF8"/><rect x="516.30" y="303.88" width="22.65" height="7.89" fill="#EB705B"/><text x="527.50" y="310.30" font-size="5" text-anchor="middle" font-weight="700" fill="#222">*</text><rect x="538.70" y="303.88" width="22.65" height="7.89" fill="#F0EBF4"/><rect x="493.90" y="311.52" width="22.65" height="7.89" fill="#F1ECF5"/><rect x="516.30" y="311.52" width="22.65" height="7.89" fill="#EB6F5A"/><text x="527.50" y="317.95" font-size="5" text-anchor="middle" font-weight="700" fill="#222">*</text><rect x="538.70" y="311.52" width="22.65" height="7.89" fill="#F4CCC1"/><rect x="493.90" y="319.17" width="22.65" height="7.89" fill="#BFABD7"/><rect x="516.30" y="319.17" width="22.65" height="7.89" fill="#F6DDD2"/><rect x="538.70" y="319.17" width="22.65" height="7.89" fill="#F3C5B8"/><rect x="493.90" y="326.81" width="22.65" height="7.89" fill="#FAF8FA"/><rect x="516.30" y="326.81" width="22.65" height="7.89" fill="#EA5F49"/><text x="527.50" y="333.24" font-size="5" text-anchor="middle" font-weight="700" fill="#222">**</text><rect x="538.70" y="326.81" width="22.65" height="7.89" fill="#EFA08E"/><rect x="493.90" y="334.46" width="22.65" height="7.89" fill="#D9CCE6"/><rect x="516.30" y="334.46" width="22.65" height="7.89" fill="#EB6F5A"/><text x="527.50" y="340.88" font-size="5" text-anchor="middle" font-weight="700" fill="#222">*</text><rect x="538.70" y="334.46" width="22.65" height="7.89" fill="#F8EAE2"/><rect x="493.90" y="342.11" width="22.65" height="7.89" fill="#F1B0A0"/><rect x="516.30" y="342.11" width="22.65" height="7.89" fill="#EFA08E"/><rect x="538.70" y="342.11" width="22.65" height="7.89" fill="#C2AEDA"/><rect x="493.90" y="349.75" width="22.65" height="7.89" fill="#F9F0EB"/><rect x="516.30" y="349.75" width="22.65" height="7.89" fill="#F8EFEA"/><rect x="538.70" y="349.75" width="22.65" height="7.89" fill="#F1AE9D"/><rect x="493.90" y="357.39" width="22.65" height="7.89" fill="#F4C6BA"/><rect x="516.30" y="357.39" width="22.65" height="7.89" fill="#E94A34"/><text x="527.50" y="363.82" font-size="5" text-anchor="middle" font-weight="700" fill="#222">***</text><rect x="538.70" y="357.39" width="22.65" height="7.89" fill="#ED8B76"/><text x="549.90" y="363.82" font-size="5" text-anchor="middle" font-weight="700" fill="#222">*</text><rect x="493.90" y="365.04" width="22.65" height="7.89" fill="#EFA08E"/><rect x="516.30" y="365.04" width="22.65" height="7.89" fill="#C9B8DE"/><rect x="538.70" y="365.04" width="22.65" height="7.89" fill="#C5B3DC"/><rect x="493.90" y="372.69" width="22.65" height="7.89" fill="#EE9682"/><rect x="516.30" y="372.69" width="22.65" height="7.89" fill="#B3A0D2"/><rect x="538.70" y="372.69" width="22.65" height="7.89" fill="#F3C3B5"/><text transform="translate(506.39 382.03) rotate(-90)" font-size="7.8" text-anchor="end" stroke="#000" stroke-width="0.265">Sal</text><text transform="translate(528.79 382.03) rotate(-90)" font-size="7.8" text-anchor="end" stroke="#000" stroke-width="0.265">4hr</text><text transform="translate(551.19 382.03) rotate(-90)" font-size="7.8" text-anchor="end" stroke="#000" stroke-width="0.265">24hr</text>
<text x="600.00" y="271.47" font-size="10.8" text-anchor="middle">Tnf-α</text><rect x="566.60" y="273.30" width="22.65" height="7.89" fill="#F5D2C8"/><rect x="589.00" y="273.30" width="22.65" height="7.89" fill="#F8ECE5"/><rect x="611.40" y="273.30" width="22.65" height="7.89" fill="#EE9986"/><rect x="566.60" y="280.94" width="22.65" height="7.89" fill="#EFA190"/><rect x="589.00" y="280.94" width="22.65" height="7.89" fill="#F5F2F8"/><rect x="611.40" y="280.94" width="22.65" height="7.89" fill="#F3C2B4"/><rect x="566.60" y="288.59" width="22.65" height="7.89" fill="#F7E6DC"/><rect x="589.00" y="288.59" width="22.65" height="7.89" fill="#F0A997"/><rect x="611.40" y="288.59" width="22.65" height="7.89" fill="#EC7F6A"/><rect x="566.60" y="296.24" width="22.65" height="7.89" fill="#FEFCFC"/><rect x="589.00" y="296.24" width="22.65" height="7.89" fill="#F3BFB0"/><rect x="611.40" y="296.24" width="22.65" height="7.89" fill="#FCF8F5"/><rect x="566.60" y="303.88" width="22.65" height="7.89" fill="#F8E9E1"/><rect x="589.00" y="303.88" width="22.65" height="7.89" fill="#EB705B"/><text x="600.20" y="310.30" font-size="5" text-anchor="middle" font-weight="700" fill="#222">*</text><rect x="611.40" y="303.88" width="22.65" height="7.89" fill="#F4F1F7"/><rect x="566.60" y="311.52" width="22.65" height="7.89" fill="#DCCFE7"/><rect x="589.00" y="311.52" width="22.65" height="7.89" fill="#EB7560"/><rect x="611.40" y="311.52" width="22.65" height="7.89" fill="#F6E0D7"/><rect x="566.60" y="319.17" width="22.65" height="7.89" fill="#C3B0DA"/><rect x="589.00" y="319.17" width="22.65" height="7.89" fill="#F8E5DB"/><rect x="611.40" y="319.17" width="22.65" height="7.89" fill="#F6DDD3"/><rect x="566.60" y="326.81" width="22.65" height="7.89" fill="#F7E3D9"/><rect x="589.00" y="326.81" width="22.65" height="7.89" fill="#E94F39"/><text x="600.20" y="333.24" font-size="5" text-anchor="middle" font-weight="700" fill="#222">**</text><rect x="611.40" y="326.81" width="22.65" height="7.89" fill="#EC8570"/><rect x="566.60" y="334.46" width="22.65" height="7.89" fill="#F9EEE8"/><rect x="589.00" y="334.46" width="22.65" height="7.89" fill="#ED8C78"/><rect x="611.40" y="334.46" width="22.65" height="7.89" fill="#F7E2D8"/><rect x="566.60" y="342.11" width="22.65" height="7.89" fill="#FCF7F5"/><rect x="589.00" y="342.11" width="22.65" height="7.89" fill="#F8E7DD"/><rect x="611.40" y="342.11" width="22.65" height="7.89" fill="#A996CF"/><rect x="566.60" y="349.75" width="22.65" height="7.89" fill="#F1B09F"/><rect x="589.00" y="349.75" width="22.65" height="7.89" fill="#D3C5E2"/><rect x="611.40" y="349.75" width="22.65" height="7.89" fill="#F2B5A6"/><rect x="566.60" y="357.39" width="22.65" height="7.89" fill="#EF9B89"/><rect x="589.00" y="357.39" width="22.65" height="7.89" fill="#E94C36"/><text x="600.20" y="363.82" font-size="5" text-anchor="middle" font-weight="700" fill="#222">***</text><rect x="611.40" y="357.39" width="22.65" height="7.89" fill="#EB6C57"/><text x="622.60" y="363.82" font-size="5" text-anchor="middle" font-weight="700" fill="#222">**</text><rect x="566.60" y="365.04" width="22.65" height="7.89" fill="#EE9682"/><rect x="589.00" y="365.04" width="22.65" height="7.89" fill="#9582C4"/><rect x="611.40" y="365.04" width="22.65" height="7.89" fill="#B19ED2"/><rect x="566.60" y="372.69" width="22.65" height="7.89" fill="#F3C0B2"/><rect x="589.00" y="372.69" width="22.65" height="7.89" fill="#A592CC"/><rect x="611.40" y="372.69" width="22.65" height="7.89" fill="#F1AE9D"/><text transform="translate(579.09 382.03) rotate(-90)" font-size="7.8" text-anchor="end" stroke="#000" stroke-width="0.265">Sal</text><text transform="translate(601.49 382.03) rotate(-90)" font-size="7.8" text-anchor="end" stroke="#000" stroke-width="0.265">4hr</text><text transform="translate(623.89 382.03) rotate(-90)" font-size="7.8" text-anchor="end" stroke="#000" stroke-width="0.265">24hr</text><text x="636.00" y="279.44" font-size="6.2" stroke="#000" stroke-width="0.136">Atp5d</text><text x="636.00" y="287.09" font-size="6.2" stroke="#000" stroke-width="0.136">Cox4i1</text><text x="636.00" y="294.73" font-size="6.2" stroke="#000" stroke-width="0.136">Ndufa12</text><text x="636.00" y="302.38" font-size="6.2" stroke="#000" stroke-width="0.136">Sdha</text><text x="636.00" y="310.02" font-size="6.2" stroke="#000" stroke-width="0.136">Nrf1</text><text x="636.00" y="317.67" font-size="6.2" stroke="#000" stroke-width="0.136">Tfam</text><text x="636.00" y="325.31" font-size="6.2" stroke="#000" stroke-width="0.136">Ppargc1α</text><text x="636.00" y="332.96" font-size="6.2" stroke="#000" stroke-width="0.136">Dnm1l</text><text x="636.00" y="340.60" font-size="6.2" stroke="#000" stroke-width="0.136">Mfn1</text><text x="636.00" y="348.25" font-size="6.2" stroke="#000" stroke-width="0.136">Micu1</text><text x="636.00" y="355.89" font-size="6.2" stroke="#000" stroke-width="0.136">Vdac1</text><text x="636.00" y="363.54" font-size="6.2" stroke="#000" stroke-width="0.136">Sod2</text><text x="636.00" y="371.18" font-size="6.2" stroke="#000" stroke-width="0.136">Cat</text><text x="636.00" y="378.83" font-size="6.2" stroke="#000" stroke-width="0.136">Gpx1</text>
<text x="453.00" y="410.17" font-size="10.8" text-anchor="middle">Cx3cr1</text><rect x="419.70" y="412.10" width="22.65" height="7.89" fill="#F5D3C9"/><rect x="442.10" y="412.10" width="22.65" height="7.89" fill="#F6DACF"/><rect x="464.50" y="412.10" width="22.65" height="7.89" fill="#FEFDFD"/><rect x="419.70" y="419.75" width="22.65" height="7.89" fill="#EB6C57"/><text x="430.90" y="426.17" font-size="5" text-anchor="middle" font-weight="700" fill="#222">*</text><rect x="442.10" y="419.75" width="22.65" height="7.89" fill="#ED8D79"/><rect x="464.50" y="419.75" width="22.65" height="7.89" fill="#EA5F4A"/><text x="475.70" y="426.17" font-size="5" text-anchor="middle" font-weight="700" fill="#222">**</text><rect x="419.70" y="427.39" width="22.65" height="7.89" fill="#EB7560"/><rect x="442.10" y="427.39" width="22.65" height="7.89" fill="#F8E4DB"/><rect x="464.50" y="427.39" width="22.65" height="7.89" fill="#EF9986"/><text x="475.70" y="433.81" font-size="5" text-anchor="middle" font-weight="700" fill="#222">***</text><rect x="419.70" y="435.04" width="22.65" height="7.89" fill="#EB705B"/><rect x="442.10" y="435.04" width="22.65" height="7.89" fill="#F5CFC4"/><rect x="464.50" y="435.04" width="22.65" height="7.89" fill="#EA553F"/><text x="475.70" y="441.46" font-size="5" text-anchor="middle" font-weight="700" fill="#222">**</text><rect x="419.70" y="442.68" width="22.65" height="7.89" fill="#EC846F"/><rect x="442.10" y="442.68" width="22.65" height="7.89" fill="#E4DAEC"/><rect x="464.50" y="442.68" width="22.65" height="7.89" fill="#EA543E"/><text x="475.70" y="449.10" font-size="5" text-anchor="middle" font-weight="700" fill="#222">**</text><rect x="419.70" y="450.33" width="22.65" height="7.89" fill="#F1AD9C"/><rect x="442.10" y="450.33" width="22.65" height="7.89" fill="#E0D5EA"/><rect x="464.50" y="450.33" width="22.65" height="7.89" fill="#E9402C"/><text x="475.70" y="456.75" font-size="5" text-anchor="middle" font-weight="700" fill="#222">***</text><rect x="419.70" y="457.97" width="22.65" height="7.89" fill="#F4C5B8"/><rect x="442.10" y="457.97" width="22.65" height="7.89" fill="#F4C4B7"/><rect x="464.50" y="457.97" width="22.65" height="7.89" fill="#ED8B77"/><text x="475.70" y="464.39" font-size="5" text-anchor="middle" font-weight="700" fill="#222">**</text><rect x="419.70" y="465.62" width="22.65" height="7.89" fill="#F0A391"/><rect x="442.10" y="465.62" width="22.65" height="7.89" fill="#9B87C7"/><rect x="464.50" y="465.62" width="22.65" height="7.89" fill="#EC8772"/><rect x="419.70" y="473.26" width="22.65" height="7.89" fill="#F3BAAB"/><rect x="442.10" y="473.26" width="22.65" height="7.89" fill="#F5F1F7"/><rect x="464.50" y="473.26" width="22.65" height="7.89" fill="#EA543E"/><text x="475.70" y="479.68" font-size="5" text-anchor="middle" font-weight="700" fill="#222">**</text><rect x="419.70" y="480.91" width="22.65" height="7.89" fill="#EB715C"/><text x="430.90" y="487.33" font-size="5" text-anchor="middle" font-weight="700" fill="#222">**</text><rect x="442.10" y="480.91" width="22.65" height="7.89" fill="#F0A694"/><rect x="464.50" y="480.91" width="22.65" height="7.89" fill="#EA5A44"/><text x="475.70" y="487.33" font-size="5" text-anchor="middle" font-weight="700" fill="#222">**</text><rect x="419.70" y="488.55" width="22.65" height="7.89" fill="#FAF5F2"/><rect x="442.10" y="488.55" width="22.65" height="7.89" fill="#EC8570"/><text x="453.30" y="494.97" font-size="5" text-anchor="middle" font-weight="700" fill="#222">***</text><rect x="464.50" y="488.55" width="22.65" height="7.89" fill="#F0A795"/><rect x="419.70" y="496.20" width="22.65" height="7.89" fill="#F3BDAE"/><rect x="442.10" y="496.20" width="22.65" height="7.89" fill="#8676BA"/><rect x="464.50" y="496.20" width="22.65" height="7.89" fill="#B19ED1"/><rect x="419.70" y="503.84" width="22.65" height="7.89" fill="#EC836E"/><rect x="442.10" y="503.84" width="22.65" height="7.89" fill="#E93B28"/><text x="453.30" y="510.26" font-size="5" text-anchor="middle" font-weight="700" fill="#222">***</text><rect x="464.50" y="503.84" width="22.65" height="7.89" fill="#E9442F"/><text x="475.70" y="510.26" font-size="5" text-anchor="middle" font-weight="700" fill="#222">***</text><rect x="419.70" y="511.49" width="22.65" height="7.89" fill="#EB6B56"/><text x="430.90" y="517.91" font-size="5" text-anchor="middle" font-weight="700" fill="#222">*</text><rect x="442.10" y="511.49" width="22.65" height="7.89" fill="#EA5742"/><text x="453.30" y="517.91" font-size="5" text-anchor="middle" font-weight="700" fill="#222">***</text><rect x="464.50" y="511.49" width="22.65" height="7.89" fill="#EC7C67"/><text x="475.70" y="517.91" font-size="5" text-anchor="middle" font-weight="700" fill="#222">*</text><text transform="translate(432.19 520.83) rotate(-90)" font-size="7.8" text-anchor="end" stroke="#000" stroke-width="0.265">Sal</text><text transform="translate(454.59 520.83) rotate(-90)" font-size="7.8" text-anchor="end" stroke="#000" stroke-width="0.265">4hr</text><text transform="translate(476.99 520.83) rotate(-90)" font-size="7.8" text-anchor="end" stroke="#000" stroke-width="0.265">24hr</text>
<text x="527.50" y="410.17" font-size="10.8" text-anchor="middle">P2ry12</text><rect x="493.90" y="412.10" width="22.65" height="7.89" fill="#F6DCD2"/><rect x="516.30" y="412.10" width="22.65" height="7.89" fill="#F7DFD5"/><rect x="538.70" y="412.10" width="22.65" height="7.89" fill="#A895CE"/><rect x="493.90" y="419.75" width="22.65" height="7.89" fill="#ED8974"/><rect x="516.30" y="419.75" width="22.65" height="7.89" fill="#ED8B76"/><rect x="538.70" y="419.75" width="22.65" height="7.89" fill="#F7E1D7"/><rect x="493.90" y="427.39" width="22.65" height="7.89" fill="#EB6F5A"/><text x="505.10" y="433.81" font-size="5" text-anchor="middle" font-weight="700" fill="#222">*</text><rect x="516.30" y="427.39" width="22.65" height="7.89" fill="#F4C9BD"/><rect x="538.70" y="427.39" width="22.65" height="7.89" fill="#CDBEE0"/><rect x="493.90" y="435.04" width="22.65" height="7.89" fill="#EA5742"/><text x="505.10" y="441.46" font-size="5" text-anchor="middle" font-weight="700" fill="#222">*</text><rect x="516.30" y="435.04" width="22.65" height="7.89" fill="#F2B8A9"/><rect x="538.70" y="435.04" width="22.65" height="7.89" fill="#EE937F"/><rect x="493.90" y="442.68" width="22.65" height="7.89" fill="#EB715C"/><rect x="516.30" y="442.68" width="22.65" height="7.89" fill="#F4F0F7"/><rect x="538.70" y="442.68" width="22.65" height="7.89" fill="#ED917C"/><rect x="493.90" y="450.33" width="22.65" height="7.89" fill="#EC7D68"/><text x="505.10" y="456.75" font-size="5" text-anchor="middle" font-weight="700" fill="#222">*</text><rect x="516.30" y="450.33" width="22.65" height="7.89" fill="#EFEBF5"/><rect x="538.70" y="450.33" width="22.65" height="7.89" fill="#EFA08E"/><rect x="493.90" y="457.97" width="22.65" height="7.89" fill="#ED8A75"/><rect x="516.30" y="457.97" width="22.65" height="7.89" fill="#F1AE9D"/><text x="527.50" y="464.39" font-size="5" text-anchor="middle" font-weight="700" fill="#222">**</text><rect x="538.70" y="457.97" width="22.65" height="7.89" fill="#F1AE9D"/><rect x="493.90" y="465.62" width="22.65" height="7.89" fill="#F0A492"/><rect x="516.30" y="465.62" width="22.65" height="7.89" fill="#B6A3D4"/><rect x="538.70" y="465.62" width="22.65" height="7.89" fill="#EAE4F1"/><rect x="493.90" y="473.26" width="22.65" height="7.89" fill="#F3BDAE"/><rect x="516.30" y="473.26" width="22.65" height="7.89" fill="#FFFFFF"/><rect x="538.70" y="473.26" width="22.65" height="7.89" fill="#EFA08E"/><rect x="493.90" y="480.91" width="22.65" height="7.89" fill="#EA5F4A"/><text x="505.10" y="487.33" font-size="5" text-anchor="middle" font-weight="700" fill="#222">**</text><rect x="516.30" y="480.91" width="22.65" height="7.89" fill="#EFA08E"/><rect x="538.70" y="480.91" width="22.65" height="7.89" fill="#E94A35"/><text x="549.90" y="487.33" font-size="5" text-anchor="middle" font-weight="700" fill="#222">***</text><rect x="493.90" y="488.55" width="22.65" height="7.89" fill="#FFFFFF"/><rect x="516.30" y="488.55" width="22.65" height="7.89" fill="#EC836E"/><text x="527.50" y="494.97" font-size="5" text-anchor="middle" font-weight="700" fill="#222">**</text><rect x="538.70" y="488.55" width="22.65" height="7.89" fill="#FDFAF7"/><rect x="493.90" y="496.20" width="22.65" height="7.89" fill="#F6D8CE"/><rect x="516.30" y="496.20" width="22.65" height="7.89" fill="#9583C4"/><rect x="538.70" y="496.20" width="22.65" height="7.89" fill="#8C79BE"/><rect x="493.90" y="503.84" width="22.65" height="7.89" fill="#EFA18F"/><rect x="516.30" y="503.84" width="22.65" height="7.89" fill="#E93B28"/><text x="527.50" y="510.26" font-size="5" text-anchor="middle" font-weight="700" fill="#222">***</text><rect x="538.70" y="503.84" width="22.65" height="7.89" fill="#E93E2A"/><text x="549.90" y="510.26" font-size="5" text-anchor="middle" font-weight="700" fill="#222">***</text><rect x="493.90" y="511.49" width="22.65" height="7.89" fill="#EE927E"/><rect x="516.30" y="511.49" width="22.65" height="7.89" fill="#EA5540"/><text x="527.50" y="517.91" font-size="5" text-anchor="middle" font-weight="700" fill="#222">***</text><rect x="538.70" y="511.49" width="22.65" height="7.89" fill="#FFFFFF"/><text transform="translate(506.39 520.83) rotate(-90)" font-size="7.8" text-anchor="end" stroke="#000" stroke-width="0.265">Sal</text><text transform="translate(528.79 520.83) rotate(-90)" font-size="7.8" text-anchor="end" stroke="#000" stroke-width="0.265">4hr</text><text transform="translate(551.19 520.83) rotate(-90)" font-size="7.8" text-anchor="end" stroke="#000" stroke-width="0.265">24hr</text>
<text x="600.00" y="410.17" font-size="10.8" text-anchor="middle">Tgfβ1</text><rect x="566.60" y="412.10" width="22.65" height="7.89" fill="#F1B1A1"/><rect x="589.00" y="412.10" width="22.65" height="7.89" fill="#EC806B"/><rect x="611.40" y="412.10" width="22.65" height="7.89" fill="#D6C8E4"/><rect x="566.60" y="419.75" width="22.65" height="7.89" fill="#E94C37"/><text x="577.80" y="426.17" font-size="5" text-anchor="middle" font-weight="700" fill="#222">**</text><rect x="589.00" y="419.75" width="22.65" height="7.89" fill="#EB745F"/><text x="600.20" y="426.17" font-size="5" text-anchor="middle" font-weight="700" fill="#222">*</text><rect x="611.40" y="419.75" width="22.65" height="7.89" fill="#F0A492"/><rect x="566.60" y="427.39" width="22.65" height="7.89" fill="#EB705B"/><rect x="589.00" y="427.39" width="22.65" height="7.89" fill="#EA5F4A"/><text x="600.20" y="433.81" font-size="5" text-anchor="middle" font-weight="700" fill="#222">**</text><rect x="611.40" y="427.39" width="22.65" height="7.89" fill="#FCF8F5"/><rect x="566.60" y="435.04" width="22.65" height="7.89" fill="#EB6D58"/><rect x="589.00" y="435.04" width="22.65" height="7.89" fill="#EB745F"/><text x="600.20" y="441.46" font-size="5" text-anchor="middle" font-weight="700" fill="#222">*</text><rect x="611.40" y="435.04" width="22.65" height="7.89" fill="#EA634E"/><text x="622.60" y="441.46" font-size="5" text-anchor="middle" font-weight="700" fill="#222">**</text><rect x="566.60" y="442.68" width="22.65" height="7.89" fill="#EB745F"/><rect x="589.00" y="442.68" width="22.65" height="7.89" fill="#EC7E69"/><rect x="611.40" y="442.68" width="22.65" height="7.89" fill="#EB6D58"/><text x="622.60" y="449.10" font-size="5" text-anchor="middle" font-weight="700" fill="#222">*</text><rect x="566.60" y="450.33" width="22.65" height="7.89" fill="#F0A391"/><rect x="589.00" y="450.33" width="22.65" height="7.89" fill="#EC7E69"/><rect x="611.40" y="450.33" width="22.65" height="7.89" fill="#EB705B"/><text x="622.60" y="456.75" font-size="5" text-anchor="middle" font-weight="700" fill="#222">*</text><rect x="566.60" y="457.97" width="22.65" height="7.89" fill="#F5D3C9"/><rect x="589.00" y="457.97" width="22.65" height="7.89" fill="#ED8974"/><text x="600.20" y="464.39" font-size="5" text-anchor="middle" font-weight="700" fill="#222">**</text><rect x="611.40" y="457.97" width="22.65" height="7.89" fill="#ED8D79"/><rect x="566.60" y="465.62" width="22.65" height="7.89" fill="#F2B6A7"/><rect x="589.00" y="465.62" width="22.65" height="7.89" fill="#EF9B89"/><rect x="611.40" y="465.62" width="22.65" height="7.89" fill="#F8EBE4"/><rect x="566.60" y="473.26" width="22.65" height="7.89" fill="#F5D2C8"/><rect x="589.00" y="473.26" width="22.65" height="7.89" fill="#EC8570"/><rect x="611.40" y="473.26" width="22.65" height="7.89" fill="#EB745F"/><text x="622.60" y="479.68" font-size="5" text-anchor="middle" font-weight="700" fill="#222">*</text><rect x="566.60" y="480.91" width="22.65" height="7.89" fill="#EB6C57"/><rect x="589.00" y="480.91" width="22.65" height="7.89" fill="#EB6A55"/><text x="600.20" y="487.33" font-size="5" text-anchor="middle" font-weight="700" fill="#222">*</text><rect x="611.40" y="480.91" width="22.65" height="7.89" fill="#E94732"/><text x="622.60" y="487.33" font-size="5" text-anchor="middle" font-weight="700" fill="#222">***</text><rect x="566.60" y="488.55" width="22.65" height="7.89" fill="#F6DBD1"/><rect x="589.00" y="488.55" width="22.65" height="7.89" fill="#ED8E7A"/><rect x="611.40" y="488.55" width="22.65" height="7.89" fill="#F6DDD3"/><rect x="566.60" y="496.20" width="22.65" height="7.89" fill="#ED8D79"/><rect x="589.00" y="496.20" width="22.65" height="7.89" fill="#F2B5A6"/><text x="600.20" y="502.62" font-size="5" text-anchor="middle" font-weight="700" fill="#222">**</text><rect x="611.40" y="496.20" width="22.65" height="7.89" fill="#9A87C7"/><rect x="566.60" y="503.84" width="22.65" height="7.89" fill="#EB6F5A"/><text x="577.80" y="510.26" font-size="5" text-anchor="middle" font-weight="700" fill="#222">*</text><rect x="589.00" y="503.84" width="22.65" height="7.89" fill="#EE927E"/><rect x="611.40" y="503.84" width="22.65" height="7.89" fill="#E93E2A"/><text x="622.60" y="510.26" font-size="5" text-anchor="middle" font-weight="700" fill="#222">***</text><rect x="566.60" y="511.49" width="22.65" height="7.89" fill="#EC7C67"/><rect x="589.00" y="511.49" width="22.65" height="7.89" fill="#F0A693"/><rect x="611.40" y="511.49" width="22.65" height="7.89" fill="#F3C0B2"/><text transform="translate(579.09 520.83) rotate(-90)" font-size="7.8" text-anchor="end" stroke="#000" stroke-width="0.265">Sal</text><text transform="translate(601.49 520.83) rotate(-90)" font-size="7.8" text-anchor="end" stroke="#000" stroke-width="0.265">4hr</text><text transform="translate(623.89 520.83) rotate(-90)" font-size="7.8" text-anchor="end" stroke="#000" stroke-width="0.265">24hr</text><text x="636.00" y="418.24" font-size="6.2" stroke="#000" stroke-width="0.136">Atp5d</text><text x="636.00" y="425.89" font-size="6.2" stroke="#000" stroke-width="0.136">Cox4i1</text><text x="636.00" y="433.53" font-size="6.2" stroke="#000" stroke-width="0.136">Ndufa12</text><text x="636.00" y="441.18" font-size="6.2" stroke="#000" stroke-width="0.136">Sdha</text><text x="636.00" y="448.82" font-size="6.2" stroke="#000" stroke-width="0.136">Nrf1</text><text x="636.00" y="456.47" font-size="6.2" stroke="#000" stroke-width="0.136">Tfam</text><text x="636.00" y="464.11" font-size="6.2" stroke="#000" stroke-width="0.136">Ppargc1α</text><text x="636.00" y="471.76" font-size="6.2" stroke="#000" stroke-width="0.136">Dnm1l</text><text x="636.00" y="479.40" font-size="6.2" stroke="#000" stroke-width="0.136">Mfn1</text><text x="636.00" y="487.05" font-size="6.2" stroke="#000" stroke-width="0.136">Micu1</text><text x="636.00" y="494.69" font-size="6.2" stroke="#000" stroke-width="0.136">Vdac1</text><text x="636.00" y="502.34" font-size="6.2" stroke="#000" stroke-width="0.136">Sod2</text><text x="636.00" y="509.98" font-size="6.2" stroke="#000" stroke-width="0.136">Cat</text><text x="636.00" y="517.63" font-size="6.2" stroke="#000" stroke-width="0.136">Gpx1</text>
<text x="665.10" y="376.03" font-size="6.5" text-anchor="middle" font-weight="700">R</text>
<defs><linearGradient id="rg" x1="0" x2="0" y1="0" y2="1"><stop offset="0" stop-color="#E8301E"/><stop offset="0.2" stop-color="#EB6450"/><stop offset="0.38" stop-color="#F4C2B5"/><stop offset="0.5" stop-color="#FFFFFF"/><stop offset="0.62" stop-color="#D5C7E3"/><stop offset="0.8" stop-color="#8C78BE"/><stop offset="1" stop-color="#3A56B4"/></linearGradient></defs>
<rect x="660.90" y="379.00" width="8.00" height="38.50" fill="url(#rg)"/>
<text x="670.30" y="383.05" font-size="6.0" stroke="#000" stroke-width="0.132">1</text>
<line x1="660.90" y1="380.90" x2="662.40" y2="380.90" stroke="#fff" stroke-width="0.5"/>
<line x1="667.40" y1="380.90" x2="668.90" y2="380.90" stroke="#fff" stroke-width="0.5"/>
<text x="670.30" y="391.95" font-size="6.0" stroke="#000" stroke-width="0.132">0.5</text>
<line x1="660.90" y1="389.80" x2="662.40" y2="389.80" stroke="#fff" stroke-width="0.5"/>
<line x1="667.40" y1="389.80" x2="668.90" y2="389.80" stroke="#fff" stroke-width="0.5"/>
<text x="670.30" y="401.05" font-size="6.0" stroke="#000" stroke-width="0.132">0</text>
<line x1="660.90" y1="398.90" x2="662.40" y2="398.90" stroke="#fff" stroke-width="0.5"/>
<line x1="667.40" y1="398.90" x2="668.90" y2="398.90" stroke="#fff" stroke-width="0.5"/>
<text x="670.30" y="409.65" font-size="6.0" stroke="#000" stroke-width="0.132">-0.5</text>
<line x1="660.90" y1="407.50" x2="662.40" y2="407.50" stroke="#fff" stroke-width="0.5"/>
<line x1="667.40" y1="407.50" x2="668.90" y2="407.50" stroke="#fff" stroke-width="0.5"/>
<text x="670.30" y="418.35" font-size="6.0" stroke="#000" stroke-width="0.132">-1</text>
<line x1="660.90" y1="416.20" x2="662.40" y2="416.20" stroke="#fff" stroke-width="0.5"/>
<line x1="667.40" y1="416.20" x2="668.90" y2="416.20" stroke="#fff" stroke-width="0.5"/>
<text x="1.30" y="569.53" font-size="16" font-weight="700">E</text>
<rect x="49.5" y="575.6" width="130.10" height="129.20" fill="#fff" stroke="#6A6A6A" stroke-width="0.8"/><ellipse cx="123.00" cy="641.80" rx="21.80" ry="12.00" fill="#8C8C8C" fill-opacity="0.035" stroke="#6E6E6E" stroke-width="0.4"/><ellipse cx="122.70" cy="641.77" rx="20.45" ry="11.26" fill="#8C8C8C" fill-opacity="0.035" stroke="#6E6E6E" stroke-width="0.4"/><ellipse cx="122.40" cy="641.75" rx="19.10" ry="10.51" fill="#8C8C8C" fill-opacity="0.035" stroke="#6E6E6E" stroke-width="0.4"/><ellipse cx="122.10" cy="641.72" rx="17.75" ry="9.77" fill="#8C8C8C" fill-opacity="0.035" stroke="#6E6E6E" stroke-width="0.4"/><ellipse cx="121.80" cy="641.69" rx="16.39" ry="9.02" fill="#8C8C8C" fill-opacity="0.035" stroke="#6E6E6E" stroke-width="0.4"/><ellipse cx="121.50" cy="641.67" rx="15.04" ry="8.28" fill="#8C8C8C" fill-opacity="0.035" stroke="#6E6E6E" stroke-width="0.4"/><ellipse cx="121.20" cy="641.64" rx="13.69" ry="7.54" fill="#8C8C8C" fill-opacity="0.035" stroke="#6E6E6E" stroke-width="0.4"/><ellipse cx="120.90" cy="641.61" rx="12.34" ry="6.79" fill="#8C8C8C" fill-opacity="0.035" stroke="#6E6E6E" stroke-width="0.4"/><ellipse cx="120.60" cy="641.59" rx="10.99" ry="6.05" fill="#8C8C8C" fill-opacity="0.035" stroke="#6E6E6E" stroke-width="0.4"/><ellipse cx="120.30" cy="641.56" rx="9.64" ry="5.30" fill="#8C8C8C" fill-opacity="0.035" stroke="#6E6E6E" stroke-width="0.4"/><ellipse cx="120.00" cy="641.53" rx="8.28" ry="4.56" fill="#8C8C8C" fill-opacity="0.035" stroke="#6E6E6E" stroke-width="0.4"/><ellipse cx="119.70" cy="641.51" rx="6.93" ry="3.82" fill="#8C8C8C" fill-opacity="0.035" stroke="#6E6E6E" stroke-width="0.4"/><ellipse cx="119.40" cy="641.48" rx="5.58" ry="3.07" fill="#8C8C8C" fill-opacity="0.035" stroke="#6E6E6E" stroke-width="0.4"/><ellipse cx="119.10" cy="641.45" rx="4.23" ry="2.33" fill="#8C8C8C" fill-opacity="0.035" stroke="#6E6E6E" stroke-width="0.4"/><ellipse cx="118.80" cy="641.43" rx="2.88" ry="1.58" fill="#8C8C8C" fill-opacity="0.035" stroke="#6E6E6E" stroke-width="0.4"/><line x1="121.20" y1="575.60" x2="121.20" y2="704.80" stroke="#4A4A4A" stroke-width="0.8"/><line x1="49.50" y1="642.40" x2="179.60" y2="642.40" stroke="#4A4A4A" stroke-width="0.8"/><path d="M49.5 702.43 h-1.8 M49.5 699.89 h-1.8 M49.5 697.81 h-1.8 M49.5 696.06 h-1.8 M49.5 694.54 h-1.8 M49.5 693.20 h-1.8 M51.45 704.8 v1.8 M54.02 704.8 v1.8 M56.12 704.8 v1.8 M57.90 704.8 v1.8 M59.43 704.8 v1.8 M60.79 704.8 v1.8 M49.5 692.00 h-3.2 M49.5 684.11 h-1.8 M49.5 679.50 h-1.8 M49.5 676.23 h-1.8 M49.5 673.69 h-1.8 M49.5 671.61 h-1.8 M49.5 669.86 h-1.8 M49.5 668.34 h-1.8 M49.5 667.00 h-1.8 M62.00 704.8 v3.2 M69.98 704.8 v1.8 M74.64 704.8 v1.8 M77.95 704.8 v1.8 M80.52 704.8 v1.8 M82.62 704.8 v1.8 M84.40 704.8 v1.8 M85.93 704.8 v1.8 M87.29 704.8 v1.8 M49.5 665.80 h-3.2 M49.5 657.91 h-1.8 M49.5 653.30 h-1.8 M49.5 650.03 h-1.8 M49.5 647.49 h-1.8 M49.5 645.41 h-1.8 M49.5 643.66 h-1.8 M49.5 642.14 h-1.8 M49.5 640.80 h-1.8 M88.50 704.8 v3.2 M96.48 704.8 v1.8 M101.14 704.8 v1.8 M104.45 704.8 v1.8 M107.02 704.8 v1.8 M109.12 704.8 v1.8 M110.90 704.8 v1.8 M112.43 704.8 v1.8 M113.79 704.8 v1.8 M49.5 639.60 h-3.2 M49.5 631.71 h-1.8 M49.5 627.10 h-1.8 M49.5 623.83 h-1.8 M49.5 621.29 h-1.8 M49.5 619.21 h-1.8 M49.5 617.46 h-1.8 M49.5 615.94 h-1.8 M49.5 614.60 h-1.8 M115.00 704.8 v3.2 M122.98 704.8 v1.8 M127.64 704.8 v1.8 M130.95 704.8 v1.8 M133.52 704.8 v1.8 M135.62 704.8 v1.8 M137.40 704.8 v1.8 M138.93 704.8 v1.8 M140.29 704.8 v1.8 M49.5 613.40 h-3.2 M49.5 605.51 h-1.8 M49.5 600.90 h-1.8 M49.5 597.63 h-1.8 M49.5 595.09 h-1.8 M49.5 593.01 h-1.8 M49.5 591.26 h-1.8 M49.5 589.74 h-1.8 M49.5 588.40 h-1.8 M141.50 704.8 v3.2 M149.48 704.8 v1.8 M154.14 704.8 v1.8 M157.45 704.8 v1.8 M160.02 704.8 v1.8 M162.12 704.8 v1.8 M163.90 704.8 v1.8 M165.43 704.8 v1.8 M166.79 704.8 v1.8 M49.5 587.20 h-3.2 M49.5 579.31 h-1.8 M168.00 704.8 v3.2 M175.98 704.8 v1.8" stroke="#333" stroke-width="0.55" fill="none"/><text x="53.20" y="585.82" font-size="6.2" fill="#222" stroke="#222" stroke-width="0.136">Q1</text><text x="53.20" y="593.82" font-size="6.2" fill="#222" stroke="#222" stroke-width="0.136">23.0</text><text x="175.00" y="585.82" font-size="6.2" text-anchor="end" fill="#222" stroke="#222" stroke-width="0.136">Q2</text><text x="175.00" y="593.82" font-size="6.2" text-anchor="end" fill="#222" stroke="#222" stroke-width="0.136">26.4</text><text x="53.20" y="691.42" font-size="6.2" fill="#222" stroke="#222" stroke-width="0.136">Q4</text><text x="53.20" y="699.22" font-size="6.2" fill="#222" stroke="#222" stroke-width="0.136">27.7</text><text x="175.00" y="691.42" font-size="6.2" text-anchor="end" fill="#222" stroke="#222" stroke-width="0.136">Q3</text><text x="175.00" y="699.22" font-size="6.2" text-anchor="end" fill="#222" stroke="#222" stroke-width="0.136">22.9</text><text transform="translate(41.25 640.70) rotate(-90)" font-size="8.25" text-anchor="middle" stroke="#000" stroke-width="0.281">GFP (mitochondria)</text><text transform="translate(32.11 640.70) rotate(-90)" font-size="9.8" text-anchor="middle" font-weight="700" stroke="#000" stroke-width="0.3">Saline</text>
<rect x="49.5" y="711.9" width="130.10" height="130.40" fill="#fff" stroke="#6A6A6A" stroke-width="0.8"/><ellipse cx="113.80" cy="775.70" rx="16.70" ry="12.70" fill="#8C8C8C" fill-opacity="0.035" stroke="#6E6E6E" stroke-width="0.4" transform="rotate(-12 113.80 775.70)"/><ellipse cx="113.93" cy="775.65" rx="15.66" ry="11.91" fill="#8C8C8C" fill-opacity="0.035" stroke="#6E6E6E" stroke-width="0.4" transform="rotate(-12 113.93 775.65)"/><ellipse cx="114.07" cy="775.61" rx="14.63" ry="11.13" fill="#8C8C8C" fill-opacity="0.035" stroke="#6E6E6E" stroke-width="0.4" transform="rotate(-12 114.07 775.61)"/><ellipse cx="114.20" cy="775.56" rx="13.59" ry="10.34" fill="#8C8C8C" fill-opacity="0.035" stroke="#6E6E6E" stroke-width="0.4" transform="rotate(-12 114.20 775.56)"/><ellipse cx="114.33" cy="775.51" rx="12.56" ry="9.55" fill="#8C8C8C" fill-opacity="0.035" stroke="#6E6E6E" stroke-width="0.4" transform="rotate(-12 114.33 775.51)"/><ellipse cx="114.47" cy="775.47" rx="11.52" ry="8.76" fill="#8C8C8C" fill-opacity="0.035" stroke="#6E6E6E" stroke-width="0.4" transform="rotate(-12 114.47 775.47)"/><ellipse cx="114.60" cy="775.42" rx="10.49" ry="7.98" fill="#8C8C8C" fill-opacity="0.035" stroke="#6E6E6E" stroke-width="0.4" transform="rotate(-12 114.60 775.42)"/><ellipse cx="114.73" cy="775.37" rx="9.45" ry="7.19" fill="#8C8C8C" fill-opacity="0.035" stroke="#6E6E6E" stroke-width="0.4" transform="rotate(-12 114.73 775.37)"/><ellipse cx="114.87" cy="775.33" rx="8.42" ry="6.40" fill="#8C8C8C" fill-opacity="0.035" stroke="#6E6E6E" stroke-width="0.4" transform="rotate(-12 114.87 775.33)"/><ellipse cx="115.00" cy="775.28" rx="7.38" ry="5.61" fill="#8C8C8C" fill-opacity="0.035" stroke="#6E6E6E" stroke-width="0.4" transform="rotate(-12 115.00 775.28)"/><ellipse cx="115.13" cy="775.23" rx="6.35" ry="4.83" fill="#8C8C8C" fill-opacity="0.035" stroke="#6E6E6E" stroke-width="0.4" transform="rotate(-12 115.13 775.23)"/><ellipse cx="115.27" cy="775.19" rx="5.31" ry="4.04" fill="#8C8C8C" fill-opacity="0.035" stroke="#6E6E6E" stroke-width="0.4" transform="rotate(-12 115.27 775.19)"/><ellipse cx="115.40" cy="775.14" rx="4.28" ry="3.25" fill="#8C8C8C" fill-opacity="0.035" stroke="#6E6E6E" stroke-width="0.4" transform="rotate(-12 115.40 775.14)"/><ellipse cx="115.53" cy="775.09" rx="3.24" ry="2.46" fill="#8C8C8C" fill-opacity="0.035" stroke="#6E6E6E" stroke-width="0.4" transform="rotate(-12 115.53 775.09)"/><ellipse cx="115.67" cy="775.05" rx="2.20" ry="1.68" fill="#8C8C8C" fill-opacity="0.035" stroke="#6E6E6E" stroke-width="0.4" transform="rotate(-12 115.67 775.05)"/><line x1="121.20" y1="711.90" x2="121.20" y2="842.30" stroke="#4A4A4A" stroke-width="0.8"/><line x1="49.50" y1="778.20" x2="179.60" y2="778.20" stroke="#4A4A4A" stroke-width="0.8"/><path d="M49.5 842.00 h-1.8 M49.5 838.73 h-1.8 M49.5 836.19 h-1.8 M49.5 834.11 h-1.8 M49.5 832.36 h-1.8 M49.5 830.84 h-1.8 M49.5 829.50 h-1.8 M51.45 842.3 v1.8 M54.02 842.3 v1.8 M56.12 842.3 v1.8 M57.90 842.3 v1.8 M59.43 842.3 v1.8 M60.79 842.3 v1.8 M49.5 828.30 h-3.2 M49.5 820.41 h-1.8 M49.5 815.80 h-1.8 M49.5 812.53 h-1.8 M49.5 809.99 h-1.8 M49.5 807.91 h-1.8 M49.5 806.16 h-1.8 M49.5 804.64 h-1.8 M49.5 803.30 h-1.8 M62.00 842.3 v3.2 M69.98 842.3 v1.8 M74.64 842.3 v1.8 M77.95 842.3 v1.8 M80.52 842.3 v1.8 M82.62 842.3 v1.8 M84.40 842.3 v1.8 M85.93 842.3 v1.8 M87.29 842.3 v1.8 M49.5 802.10 h-3.2 M49.5 794.21 h-1.8 M49.5 789.60 h-1.8 M49.5 786.33 h-1.8 M49.5 783.79 h-1.8 M49.5 781.71 h-1.8 M49.5 779.96 h-1.8 M49.5 778.44 h-1.8 M49.5 777.10 h-1.8 M88.50 842.3 v3.2 M96.48 842.3 v1.8 M101.14 842.3 v1.8 M104.45 842.3 v1.8 M107.02 842.3 v1.8 M109.12 842.3 v1.8 M110.90 842.3 v1.8 M112.43 842.3 v1.8 M113.79 842.3 v1.8 M49.5 775.90 h-3.2 M49.5 768.01 h-1.8 M49.5 763.40 h-1.8 M49.5 760.13 h-1.8 M49.5 757.59 h-1.8 M49.5 755.51 h-1.8 M49.5 753.76 h-1.8 M49.5 752.24 h-1.8 M49.5 750.90 h-1.8 M115.00 842.3 v3.2 M122.98 842.3 v1.8 M127.64 842.3 v1.8 M130.95 842.3 v1.8 M133.52 842.3 v1.8 M135.62 842.3 v1.8 M137.40 842.3 v1.8 M138.93 842.3 v1.8 M140.29 842.3 v1.8 M49.5 749.70 h-3.2 M49.5 741.81 h-1.8 M49.5 737.20 h-1.8 M49.5 733.93 h-1.8 M49.5 731.39 h-1.8 M49.5 729.31 h-1.8 M49.5 727.56 h-1.8 M49.5 726.04 h-1.8 M49.5 724.70 h-1.8 M141.50 842.3 v3.2 M149.48 842.3 v1.8 M154.14 842.3 v1.8 M157.45 842.3 v1.8 M160.02 842.3 v1.8 M162.12 842.3 v1.8 M163.90 842.3 v1.8 M165.43 842.3 v1.8 M166.79 842.3 v1.8 M49.5 723.50 h-3.2 M49.5 715.61 h-1.8 M168.00 842.3 v3.2 M175.98 842.3 v1.8" stroke="#333" stroke-width="0.55" fill="none"/><text x="53.20" y="722.12" font-size="6.2" fill="#222" stroke="#222" stroke-width="0.136">Q1</text><text x="53.20" y="730.12" font-size="6.2" fill="#222" stroke="#222" stroke-width="0.136">60.0</text><text x="175.00" y="722.12" font-size="6.2" text-anchor="end" fill="#222" stroke="#222" stroke-width="0.136">Q2</text><text x="175.00" y="730.12" font-size="6.2" text-anchor="end" fill="#222" stroke="#222" stroke-width="0.136">8.35</text><text x="53.20" y="828.92" font-size="6.2" fill="#222" stroke="#222" stroke-width="0.136">Q4</text><text x="53.20" y="836.72" font-size="6.2" fill="#222" stroke="#222" stroke-width="0.136">28.9</text><text x="175.00" y="828.92" font-size="6.2" text-anchor="end" fill="#222" stroke="#222" stroke-width="0.136">Q3</text><text x="175.00" y="836.72" font-size="6.2" text-anchor="end" fill="#222" stroke="#222" stroke-width="0.136">2.72</text><text transform="translate(41.25 777.60) rotate(-90)" font-size="8.25" text-anchor="middle" stroke="#000" stroke-width="0.281">GFP (mitochondria)</text><text transform="translate(32.11 777.60) rotate(-90)" font-size="9.8" text-anchor="middle" font-weight="700" stroke="#000" stroke-width="0.3">LPS 4hr</text>
<rect x="49.5" y="847.8" width="130.10" height="130.90" fill="#fff" stroke="#6A6A6A" stroke-width="0.8"/><ellipse cx="113.30" cy="907.60" rx="20.90" ry="14.40" fill="#8C8C8C" fill-opacity="0.035" stroke="#6E6E6E" stroke-width="0.4" transform="rotate(8 113.30 907.60)"/><ellipse cx="113.63" cy="907.51" rx="19.60" ry="13.51" fill="#8C8C8C" fill-opacity="0.035" stroke="#6E6E6E" stroke-width="0.4" transform="rotate(8 113.63 907.51)"/><ellipse cx="113.97" cy="907.43" rx="18.31" ry="12.61" fill="#8C8C8C" fill-opacity="0.035" stroke="#6E6E6E" stroke-width="0.4" transform="rotate(8 113.97 907.43)"/><ellipse cx="114.30" cy="907.34" rx="17.01" ry="11.72" fill="#8C8C8C" fill-opacity="0.035" stroke="#6E6E6E" stroke-width="0.4" transform="rotate(8 114.30 907.34)"/><ellipse cx="114.63" cy="907.25" rx="15.72" ry="10.83" fill="#8C8C8C" fill-opacity="0.035" stroke="#6E6E6E" stroke-width="0.4" transform="rotate(8 114.63 907.25)"/><ellipse cx="114.97" cy="907.17" rx="14.42" ry="9.94" fill="#8C8C8C" fill-opacity="0.035" stroke="#6E6E6E" stroke-width="0.4" transform="rotate(8 114.97 907.17)"/><ellipse cx="115.30" cy="907.08" rx="13.13" ry="9.04" fill="#8C8C8C" fill-opacity="0.035" stroke="#6E6E6E" stroke-width="0.4" transform="rotate(8 115.30 907.08)"/><ellipse cx="115.63" cy="906.99" rx="11.83" ry="8.15" fill="#8C8C8C" fill-opacity="0.035" stroke="#6E6E6E" stroke-width="0.4" transform="rotate(8 115.63 906.99)"/><ellipse cx="115.97" cy="906.91" rx="10.53" ry="7.26" fill="#8C8C8C" fill-opacity="0.035" stroke="#6E6E6E" stroke-width="0.4" transform="rotate(8 115.97 906.91)"/><ellipse cx="116.30" cy="906.82" rx="9.24" ry="6.36" fill="#8C8C8C" fill-opacity="0.035" stroke="#6E6E6E" stroke-width="0.4" transform="rotate(8 116.30 906.82)"/><ellipse cx="116.63" cy="906.73" rx="7.94" ry="5.47" fill="#8C8C8C" fill-opacity="0.035" stroke="#6E6E6E" stroke-width="0.4" transform="rotate(8 116.63 906.73)"/><ellipse cx="116.97" cy="906.65" rx="6.65" ry="4.58" fill="#8C8C8C" fill-opacity="0.035" stroke="#6E6E6E" stroke-width="0.4" transform="rotate(8 116.97 906.65)"/><ellipse cx="117.30" cy="906.56" rx="5.35" ry="3.69" fill="#8C8C8C" fill-opacity="0.035" stroke="#6E6E6E" stroke-width="0.4" transform="rotate(8 117.30 906.56)"/><ellipse cx="117.63" cy="906.47" rx="4.05" ry="2.79" fill="#8C8C8C" fill-opacity="0.035" stroke="#6E6E6E" stroke-width="0.4" transform="rotate(8 117.63 906.47)"/><ellipse cx="117.97" cy="906.39" rx="2.76" ry="1.90" fill="#8C8C8C" fill-opacity="0.035" stroke="#6E6E6E" stroke-width="0.4" transform="rotate(8 117.97 906.39)"/><line x1="121.20" y1="847.80" x2="121.20" y2="978.70" stroke="#4A4A4A" stroke-width="0.8"/><line x1="49.50" y1="914.30" x2="179.60" y2="914.30" stroke="#4A4A4A" stroke-width="0.8"/><path d="M49.5 977.90 h-1.8 M49.5 974.63 h-1.8 M49.5 972.09 h-1.8 M49.5 970.01 h-1.8 M49.5 968.26 h-1.8 M49.5 966.74 h-1.8 M49.5 965.40 h-1.8 M51.45 978.7 v1.8 M54.02 978.7 v1.8 M56.12 978.7 v1.8 M57.90 978.7 v1.8 M59.43 978.7 v1.8 M60.79 978.7 v1.8 M49.5 964.20 h-3.2 M49.5 956.31 h-1.8 M49.5 951.70 h-1.8 M49.5 948.43 h-1.8 M49.5 945.89 h-1.8 M49.5 943.81 h-1.8 M49.5 942.06 h-1.8 M49.5 940.54 h-1.8 M49.5 939.20 h-1.8 M62.00 978.7 v3.2 M69.98 978.7 v1.8 M74.64 978.7 v1.8 M77.95 978.7 v1.8 M80.52 978.7 v1.8 M82.62 978.7 v1.8 M84.40 978.7 v1.8 M85.93 978.7 v1.8 M87.29 978.7 v1.8 M49.5 938.00 h-3.2 M49.5 930.11 h-1.8 M49.5 925.50 h-1.8 M49.5 922.23 h-1.8 M49.5 919.69 h-1.8 M49.5 917.61 h-1.8 M49.5 915.86 h-1.8 M49.5 914.34 h-1.8 M49.5 913.00 h-1.8 M88.50 978.7 v3.2 M96.48 978.7 v1.8 M101.14 978.7 v1.8 M104.45 978.7 v1.8 M107.02 978.7 v1.8 M109.12 978.7 v1.8 M110.90 978.7 v1.8 M112.43 978.7 v1.8 M113.79 978.7 v1.8 M49.5 911.80 h-3.2 M49.5 903.91 h-1.8 M49.5 899.30 h-1.8 M49.5 896.03 h-1.8 M49.5 893.49 h-1.8 M49.5 891.41 h-1.8 M49.5 889.66 h-1.8 M49.5 888.14 h-1.8 M49.5 886.80 h-1.8 M115.00 978.7 v3.2 M122.98 978.7 v1.8 M127.64 978.7 v1.8 M130.95 978.7 v1.8 M133.52 978.7 v1.8 M135.62 978.7 v1.8 M137.40 978.7 v1.8 M138.93 978.7 v1.8 M140.29 978.7 v1.8 M49.5 885.60 h-3.2 M49.5 877.71 h-1.8 M49.5 873.10 h-1.8 M49.5 869.83 h-1.8 M49.5 867.29 h-1.8 M49.5 865.21 h-1.8 M49.5 863.46 h-1.8 M49.5 861.94 h-1.8 M49.5 860.60 h-1.8 M141.50 978.7 v3.2 M149.48 978.7 v1.8 M154.14 978.7 v1.8 M157.45 978.7 v1.8 M160.02 978.7 v1.8 M162.12 978.7 v1.8 M163.90 978.7 v1.8 M165.43 978.7 v1.8 M166.79 978.7 v1.8 M49.5 859.40 h-3.2 M49.5 851.51 h-1.8 M168.00 978.7 v3.2 M175.98 978.7 v1.8" stroke="#333" stroke-width="0.55" fill="none"/><text x="53.20" y="858.02" font-size="6.2" fill="#222" stroke="#222" stroke-width="0.136">Q1</text><text x="53.20" y="866.02" font-size="6.2" fill="#222" stroke="#222" stroke-width="0.136">51.6</text><text x="175.00" y="858.02" font-size="6.2" text-anchor="end" fill="#222" stroke="#222" stroke-width="0.136">Q2</text><text x="175.00" y="866.02" font-size="6.2" text-anchor="end" fill="#222" stroke="#222" stroke-width="0.136">47.0</text><text x="53.20" y="965.32" font-size="6.2" fill="#222" stroke="#222" stroke-width="0.136">Q4</text><text x="53.20" y="973.12" font-size="6.2" fill="#222" stroke="#222" stroke-width="0.136">0.83</text><text x="175.00" y="965.32" font-size="6.2" text-anchor="end" fill="#222" stroke="#222" stroke-width="0.136">Q3</text><text x="175.00" y="973.12" font-size="6.2" text-anchor="end" fill="#222" stroke="#222" stroke-width="0.136">0.58</text><text transform="translate(41.25 913.75) rotate(-90)" font-size="8.25" text-anchor="middle" stroke="#000" stroke-width="0.281">GFP (mitochondria)</text><text transform="translate(32.11 913.75) rotate(-90)" font-size="9.8" text-anchor="middle" font-weight="700" stroke="#000" stroke-width="0.3">LPS 24hr</text>
<text x="115.10" y="992.15" font-size="8.25" text-anchor="middle" stroke="#000" stroke-width="0.181">TMRM</text>
<text x="201.90" y="570.03" font-size="16" font-weight="700">F</text>
<line x1="213.50" y1="574.70" x2="385.50" y2="574.70" stroke="#333" stroke-width="0.7" stroke-dasharray="2.2 1.6"/>
<line x1="511.00" y1="574.70" x2="685.00" y2="574.70" stroke="#333" stroke-width="0.7" stroke-dasharray="2.2 1.6"/>
<text x="448.40" y="578.25" font-size="10.2" text-anchor="middle" font-weight="700">Protein Level Expression</text>
<text transform="translate(210.22 696.20) rotate(-90)" font-size="10.1" text-anchor="middle" font-weight="700" stroke="#000" stroke-width="0.3">STRIATUM</text>
<text transform="translate(209.82 900.30) rotate(-90)" font-size="10.1" text-anchor="middle" font-weight="700" stroke="#000" stroke-width="0.3">MIDBRAIN</text>
<path d="M252.9 601.7 L252.9 777.5 L356.4 777.5" fill="none" stroke="#000" stroke-width="1.3"/><text x="246.90" y="780.08" font-size="7.2" text-anchor="end" fill="#222" stroke="#222" stroke-width="0.158">0</text><text x="246.90" y="753.13" font-size="7.2" text-anchor="end" fill="#222" stroke="#222" stroke-width="0.158">500</text><text x="246.90" y="726.18" font-size="7.2" text-anchor="end" fill="#222" stroke="#222" stroke-width="0.158">1000</text><text x="246.90" y="699.23" font-size="7.2" text-anchor="end" fill="#222" stroke="#222" stroke-width="0.158">1500</text><text x="246.90" y="672.28" font-size="7.2" text-anchor="end" fill="#222" stroke="#222" stroke-width="0.158">2000</text><text x="246.90" y="645.33" font-size="7.2" text-anchor="end" fill="#222" stroke="#222" stroke-width="0.158">2500</text><text x="246.90" y="618.38" font-size="7.2" text-anchor="end" fill="#222" stroke="#222" stroke-width="0.158">3000</text><text x="267.40" y="789.06" font-size="8.0" text-anchor="middle" stroke="#000" stroke-width="0.176">Sal</text><text x="298.00" y="789.06" font-size="8.0" text-anchor="middle" stroke="#000" stroke-width="0.176">4hr</text><text x="330.60" y="789.06" font-size="8.0" text-anchor="middle" stroke="#000" stroke-width="0.176">24hr</text><path d="M252.9 777.50 h-3 M252.9 750.55 h-3 M252.9 723.60 h-3 M252.9 696.65 h-3 M252.9 669.70 h-3 M252.9 642.75 h-3 M252.9 615.80 h-3 M252.9 764.02 h-1.7 M252.9 737.08 h-1.7 M252.9 710.12 h-1.7 M252.9 683.17 h-1.7 M252.9 656.23 h-1.7 M252.9 629.27 h-1.7 M252.9 602.33 h-1.7 M268.50 777.5 v3.2 M299.40 777.5 v3.2 M330.40 777.5 v3.2" stroke="#000" stroke-width="1.1" fill="none"/><text transform="translate(227.94 693.40) rotate(-90)" font-size="8.2" text-anchor="middle" stroke="#000" stroke-width="0.279">Median Fluorescence Intensity (Arb. Units)</text><text x="310.60" y="597.14" font-size="9.9" text-anchor="middle" stroke="#000" stroke-width="0.218">GFP</text>
<rect x="262.75" y="734.65" width="5.1" height="5.1" fill="none" stroke="#828282" stroke-width="1.15"/>
<rect x="268.05" y="743.25" width="5.1" height="5.1" fill="none" stroke="#828282" stroke-width="1.15"/>
<rect x="263.65" y="739.45" width="5.1" height="5.1" fill="none" stroke="#828282" stroke-width="1.15"/>
<rect x="266.95" y="738.45" width="5.1" height="5.1" fill="none" stroke="#828282" stroke-width="1.15"/>
<rect x="264.85" y="744.05" width="5.1" height="5.1" fill="none" stroke="#828282" stroke-width="1.15"/>
<path d="M299.60 723.60 L303.20 730.26 L296.00 730.26 Z" fill="none" stroke="#828282" stroke-width="1.15"/>
<path d="M297.00 729.50 L300.60 736.16 L293.40 736.16 Z" fill="none" stroke="#828282" stroke-width="1.15"/>
<path d="M300.60 732.20 L304.20 738.86 L297.00 738.86 Z" fill="none" stroke="#828282" stroke-width="1.15"/>
<path d="M298.20 735.50 L301.80 742.16 L294.60 742.16 Z" fill="none" stroke="#828282" stroke-width="1.15"/>
<path d="M296.60 738.60 L300.20 745.26 L293.00 745.26 Z" fill="none" stroke="#828282" stroke-width="1.15"/>
<path d="M300.20 739.60 L303.80 746.26 L296.60 746.26 Z" fill="none" stroke="#828282" stroke-width="1.15"/>
<circle cx="331.00" cy="622.70" r="3.0" fill="none" stroke="#828282" stroke-width="1.15"/>
<circle cx="330.40" cy="626.50" r="3.0" fill="none" stroke="#828282" stroke-width="1.15"/>
<circle cx="329.30" cy="649.90" r="3.0" fill="none" stroke="#828282" stroke-width="1.15"/>
<circle cx="332.20" cy="668.90" r="3.0" fill="none" stroke="#828282" stroke-width="1.15"/>
<circle cx="331.30" cy="673.20" r="3.0" fill="none" stroke="#828282" stroke-width="1.15"/>
<circle cx="329.60" cy="677.60" r="3.0" fill="none" stroke="#828282" stroke-width="1.15"/>
<circle cx="330.70" cy="738.10" r="3.0" fill="none" stroke="#828282" stroke-width="1.15"/>
<line x1="258.40" y1="741.90" x2="279.20" y2="741.90" stroke="#000" stroke-width="1.3"/><line x1="268.80" y1="740.00" x2="268.80" y2="743.80" stroke="#000" stroke-width="1.15"/><line x1="263.60" y1="740.00" x2="274.00" y2="740.00" stroke="#000" stroke-width="1.15"/><line x1="263.60" y1="743.80" x2="274.00" y2="743.80" stroke="#000" stroke-width="1.15"/>
<line x1="289.10" y1="738.10" x2="309.90" y2="738.10" stroke="#000" stroke-width="1.3"/><line x1="299.50" y1="735.60" x2="299.50" y2="740.60" stroke="#000" stroke-width="1.15"/><line x1="294.30" y1="735.60" x2="304.70" y2="735.60" stroke="#000" stroke-width="1.15"/><line x1="294.30" y1="740.60" x2="304.70" y2="740.60" stroke="#000" stroke-width="1.15"/>
<line x1="320.30" y1="665.40" x2="341.10" y2="665.40" stroke="#000" stroke-width="1.3"/><line x1="330.70" y1="650.50" x2="330.70" y2="680.00" stroke="#000" stroke-width="1.15"/><line x1="325.50" y1="650.50" x2="335.90" y2="650.50" stroke="#000" stroke-width="1.15"/><line x1="325.50" y1="680.00" x2="335.90" y2="680.00" stroke="#000" stroke-width="1.15"/>
<line x1="272.30" y1="607.60" x2="330.70" y2="607.60" stroke="#333" stroke-width="0.7"/><text x="301.50" y="610.90" font-size="12" font-weight="700" text-anchor="middle">***</text>
<line x1="302.40" y1="616.90" x2="330.70" y2="616.90" stroke="#333" stroke-width="0.7"/><text x="316.55" y="620.20" font-size="12" font-weight="700" text-anchor="middle">***</text>
<path d="M413.8 601.7 L413.8 777.5 L516.0 777.5" fill="none" stroke="#000" stroke-width="1.3"/><text x="407.80" y="780.08" font-size="7.2" text-anchor="end" fill="#222" stroke="#222" stroke-width="0.158">0.0</text><text x="407.80" y="741.11" font-size="7.2" text-anchor="end" fill="#222" stroke="#222" stroke-width="0.158">0.5</text><text x="407.80" y="702.14" font-size="7.2" text-anchor="end" fill="#222" stroke="#222" stroke-width="0.158">1.0</text><text x="407.80" y="663.17" font-size="7.2" text-anchor="end" fill="#222" stroke="#222" stroke-width="0.158">1.5</text><text x="407.80" y="624.20" font-size="7.2" text-anchor="end" fill="#222" stroke="#222" stroke-width="0.158">2.0</text><text x="428.20" y="789.06" font-size="8.0" text-anchor="middle" stroke="#000" stroke-width="0.176">Sal</text><text x="459.00" y="789.06" font-size="8.0" text-anchor="middle" stroke="#000" stroke-width="0.176">4hr</text><text x="491.50" y="789.06" font-size="8.0" text-anchor="middle" stroke="#000" stroke-width="0.176">24hr</text><path d="M413.8 777.50 h-3 M413.8 738.53 h-3 M413.8 699.56 h-3 M413.8 660.59 h-3 M413.8 621.62 h-3 M413.8 758.01 h-1.7 M413.8 719.04 h-1.7 M413.8 680.08 h-1.7 M413.8 641.11 h-1.7 M413.8 602.13 h-1.7 M429.20 777.5 v3.2 M460.20 777.5 v3.2 M491.20 777.5 v3.2" stroke="#000" stroke-width="1.1" fill="none"/><text transform="translate(394.84 687.80) rotate(-90)" font-size="8.2" text-anchor="middle" stroke="#000" stroke-width="0.279">Fold Change</text><text x="464.30" y="597.14" font-size="9.9" text-anchor="middle" stroke="#000" stroke-width="0.218">TMRM</text>
<rect x="423.05" y="696.95" width="5.1" height="5.1" fill="none" stroke="#828282" stroke-width="1.15"/>
<rect x="428.25" y="696.95" width="5.1" height="5.1" fill="none" stroke="#828282" stroke-width="1.15"/>
<path d="M457.60 675.70 L461.20 682.36 L454.00 682.36 Z" fill="none" stroke="#828282" stroke-width="1.15"/>
<path d="M456.10 687.40 L459.70 694.06 L452.50 694.06 Z" fill="none" stroke="#828282" stroke-width="1.15"/>
<path d="M461.10 692.60 L464.70 699.26 L457.50 699.26 Z" fill="none" stroke="#828282" stroke-width="1.15"/>
<path d="M459.00 699.90 L462.60 706.56 L455.40 706.56 Z" fill="none" stroke="#828282" stroke-width="1.15"/>
<path d="M456.70 707.20 L460.30 713.86 L453.10 713.86 Z" fill="none" stroke="#828282" stroke-width="1.15"/>
<path d="M461.40 708.70 L465.00 715.36 L457.80 715.36 Z" fill="none" stroke="#828282" stroke-width="1.15"/>
<circle cx="491.20" cy="708.30" r="3.0" fill="none" stroke="#828282" stroke-width="1.15"/>
<circle cx="491.20" cy="729.60" r="3.0" fill="none" stroke="#828282" stroke-width="1.15"/>
<circle cx="490.60" cy="741.90" r="3.0" fill="none" stroke="#828282" stroke-width="1.15"/>
<circle cx="492.60" cy="746.80" r="3.0" fill="none" stroke="#828282" stroke-width="1.15"/>
<circle cx="489.70" cy="754.40" r="3.0" fill="none" stroke="#828282" stroke-width="1.15"/>
<circle cx="491.20" cy="770.50" r="3.0" fill="none" stroke="#828282" stroke-width="1.15"/>
<line x1="418.40" y1="699.50" x2="439.20" y2="699.50" stroke="#000" stroke-width="1.3"/>
<line x1="449.60" y1="701.30" x2="470.40" y2="701.30" stroke="#000" stroke-width="1.3"/><line x1="460.00" y1="696.60" x2="460.00" y2="706.20" stroke="#000" stroke-width="1.15"/><line x1="454.80" y1="696.60" x2="465.20" y2="696.60" stroke="#000" stroke-width="1.15"/><line x1="454.80" y1="706.20" x2="465.20" y2="706.20" stroke="#000" stroke-width="1.15"/>
<line x1="481.10" y1="742.70" x2="501.90" y2="742.70" stroke="#000" stroke-width="1.3"/><line x1="491.50" y1="735.40" x2="491.50" y2="750.00" stroke="#000" stroke-width="1.15"/><line x1="486.30" y1="735.40" x2="496.70" y2="735.40" stroke="#000" stroke-width="1.15"/><line x1="486.30" y1="750.00" x2="496.70" y2="750.00" stroke="#000" stroke-width="1.15"/>
<line x1="434.80" y1="607.60" x2="494.10" y2="607.60" stroke="#333" stroke-width="0.7"/><text x="464.45" y="610.90" font-size="12" font-weight="700" text-anchor="middle">***</text>
<line x1="465.80" y1="617.20" x2="494.10" y2="617.20" stroke="#333" stroke-width="0.7"/><text x="479.95" y="620.50" font-size="12" font-weight="700" text-anchor="middle">***</text>
<path d="M573.9 602.3 L573.9 777.4 L677.9 777.4" fill="none" stroke="#000" stroke-width="1.3"/><text x="567.90" y="779.98" font-size="7.2" text-anchor="end" fill="#222" stroke="#222" stroke-width="0.158">0</text><text x="567.90" y="748.18" font-size="7.2" text-anchor="end" fill="#222" stroke="#222" stroke-width="0.158">500</text><text x="567.90" y="716.38" font-size="7.2" text-anchor="end" fill="#222" stroke="#222" stroke-width="0.158">1000</text><text x="567.90" y="684.58" font-size="7.2" text-anchor="end" fill="#222" stroke="#222" stroke-width="0.158">1500</text><text x="567.90" y="652.78" font-size="7.2" text-anchor="end" fill="#222" stroke="#222" stroke-width="0.158">2000</text><text x="567.90" y="620.98" font-size="7.2" text-anchor="end" fill="#222" stroke="#222" stroke-width="0.158">2500</text><text x="588.00" y="788.86" font-size="8.0" text-anchor="middle" stroke="#000" stroke-width="0.176">Sal</text><text x="619.40" y="788.86" font-size="8.0" text-anchor="middle" stroke="#000" stroke-width="0.176">4hr</text><text x="651.90" y="788.86" font-size="8.0" text-anchor="middle" stroke="#000" stroke-width="0.176">24hr</text><path d="M573.9 777.40 h-3 M573.9 745.60 h-3 M573.9 713.80 h-3 M573.9 682.00 h-3 M573.9 650.20 h-3 M573.9 618.40 h-3 M573.9 761.50 h-1.7 M573.9 729.70 h-1.7 M573.9 697.90 h-1.7 M573.9 666.10 h-1.7 M573.9 634.30 h-1.7 M573.9 602.50 h-1.7 M589.50 777.4 v3.2 M620.50 777.4 v3.2 M651.60 777.4 v3.2" stroke="#000" stroke-width="1.1" fill="none"/><text transform="translate(547.64 690.00) rotate(-90)" font-size="8.2" text-anchor="middle" stroke="#000" stroke-width="0.279">Median Fluorescence Intensity (Arb. Units)</text><text x="626.30" y="597.54" font-size="9.9" text-anchor="middle" stroke="#000" stroke-width="0.218">CD45</text>
<rect x="586.15" y="640.05" width="5.1" height="5.1" fill="none" stroke="#828282" stroke-width="1.15"/>
<rect x="584.95" y="658.25" width="5.1" height="5.1" fill="none" stroke="#828282" stroke-width="1.15"/>
<rect x="589.45" y="665.55" width="5.1" height="5.1" fill="none" stroke="#828282" stroke-width="1.15"/>
<rect x="583.75" y="668.85" width="5.1" height="5.1" fill="none" stroke="#828282" stroke-width="1.15"/>
<rect x="586.65" y="680.25" width="5.1" height="5.1" fill="none" stroke="#828282" stroke-width="1.15"/>
<path d="M621.10 648.00 L624.70 654.66 L617.50 654.66 Z" fill="none" stroke="#828282" stroke-width="1.15"/>
<path d="M618.70 653.90 L622.30 660.56 L615.10 660.56 Z" fill="none" stroke="#828282" stroke-width="1.15"/>
<path d="M622.30 655.10 L625.90 661.76 L618.70 661.76 Z" fill="none" stroke="#828282" stroke-width="1.15"/>
<path d="M620.00 662.20 L623.60 668.86 L616.40 668.86 Z" fill="none" stroke="#828282" stroke-width="1.15"/>
<path d="M617.60 669.30 L621.20 675.96 L614.00 675.96 Z" fill="none" stroke="#828282" stroke-width="1.15"/>
<path d="M622.80 669.30 L626.40 675.96 L619.20 675.96 Z" fill="none" stroke="#828282" stroke-width="1.15"/>
<path d="M622.30 676.40 L625.90 683.06 L618.70 683.06 Z" fill="none" stroke="#828282" stroke-width="1.15"/>
<circle cx="651.90" cy="626.00" r="3.0" fill="none" stroke="#828282" stroke-width="1.15"/>
<circle cx="650.70" cy="630.70" r="3.0" fill="none" stroke="#828282" stroke-width="1.15"/>
<circle cx="650.20" cy="648.50" r="3.0" fill="none" stroke="#828282" stroke-width="1.15"/>
<circle cx="652.30" cy="656.30" r="3.0" fill="none" stroke="#828282" stroke-width="1.15"/>
<circle cx="651.20" cy="661.00" r="3.0" fill="none" stroke="#828282" stroke-width="1.15"/>
<circle cx="650.70" cy="666.20" r="3.0" fill="none" stroke="#828282" stroke-width="1.15"/>
<line x1="578.90" y1="665.30" x2="599.70" y2="665.30" stroke="#000" stroke-width="1.3"/><line x1="589.30" y1="660.30" x2="589.30" y2="670.20" stroke="#000" stroke-width="1.15"/><line x1="584.10" y1="660.30" x2="594.50" y2="660.30" stroke="#000" stroke-width="1.15"/><line x1="584.10" y1="670.20" x2="594.50" y2="670.20" stroke="#000" stroke-width="1.15"/>
<line x1="610.10" y1="666.90" x2="630.90" y2="666.90" stroke="#000" stroke-width="1.3"/><line x1="620.50" y1="662.70" x2="620.50" y2="671.00" stroke="#000" stroke-width="1.15"/><line x1="615.30" y1="662.70" x2="625.70" y2="662.70" stroke="#000" stroke-width="1.15"/><line x1="615.30" y1="671.00" x2="625.70" y2="671.00" stroke="#000" stroke-width="1.15"/>
<line x1="641.10" y1="645.60" x2="661.90" y2="645.60" stroke="#000" stroke-width="1.3"/><line x1="651.50" y1="639.50" x2="651.50" y2="652.00" stroke="#000" stroke-width="1.15"/><line x1="646.30" y1="639.50" x2="656.70" y2="639.50" stroke="#000" stroke-width="1.15"/><line x1="646.30" y1="652.00" x2="656.70" y2="652.00" stroke="#000" stroke-width="1.15"/>
<line x1="590.30" y1="607.50" x2="648.30" y2="607.50" stroke="#333" stroke-width="0.7"/><text x="619.30" y="610.80" font-size="12" font-weight="700" text-anchor="middle">*</text>
<line x1="621.10" y1="617.70" x2="648.30" y2="617.70" stroke="#333" stroke-width="0.7"/><text x="634.70" y="621.00" font-size="12" font-weight="700" text-anchor="middle">*</text>
<path d="M252.9 805.4 L252.9 981.2 L356.4 981.2" fill="none" stroke="#000" stroke-width="1.3"/><text x="246.90" y="983.78" font-size="7.2" text-anchor="end" fill="#222" stroke="#222" stroke-width="0.158">0</text><text x="246.90" y="956.83" font-size="7.2" text-anchor="end" fill="#222" stroke="#222" stroke-width="0.158">500</text><text x="246.90" y="929.88" font-size="7.2" text-anchor="end" fill="#222" stroke="#222" stroke-width="0.158">1000</text><text x="246.90" y="902.93" font-size="7.2" text-anchor="end" fill="#222" stroke="#222" stroke-width="0.158">1500</text><text x="246.90" y="875.98" font-size="7.2" text-anchor="end" fill="#222" stroke="#222" stroke-width="0.158">2000</text><text x="246.90" y="849.03" font-size="7.2" text-anchor="end" fill="#222" stroke="#222" stroke-width="0.158">2500</text><text x="246.90" y="822.08" font-size="7.2" text-anchor="end" fill="#222" stroke="#222" stroke-width="0.158">3000</text><text x="267.40" y="991.46" font-size="8.0" text-anchor="middle" stroke="#000" stroke-width="0.176">Sal</text><text x="298.00" y="991.46" font-size="8.0" text-anchor="middle" stroke="#000" stroke-width="0.176">4hr</text><text x="330.60" y="991.46" font-size="8.0" text-anchor="middle" stroke="#000" stroke-width="0.176">24hr</text><path d="M252.9 981.20 h-3 M252.9 954.25 h-3 M252.9 927.30 h-3 M252.9 900.35 h-3 M252.9 873.40 h-3 M252.9 846.45 h-3 M252.9 819.50 h-3 M252.9 967.73 h-1.7 M252.9 940.78 h-1.7 M252.9 913.83 h-1.7 M252.9 886.88 h-1.7 M252.9 859.93 h-1.7 M252.9 832.98 h-1.7 M252.9 806.03 h-1.7 M268.50 981.2 v3.2 M299.40 981.2 v3.2 M330.40 981.2 v3.2" stroke="#000" stroke-width="1.1" fill="none"/><text transform="translate(226.14 901.80) rotate(-90)" font-size="8.2" text-anchor="middle" stroke="#000" stroke-width="0.279">Median Fluorescence Intensity (Arb. Units)</text>
<rect x="262.95" y="936.55" width="5.1" height="5.1" fill="none" stroke="#828282" stroke-width="1.15"/>
<rect x="268.25" y="936.55" width="5.1" height="5.1" fill="none" stroke="#828282" stroke-width="1.15"/>
<rect x="263.35" y="945.05" width="5.1" height="5.1" fill="none" stroke="#828282" stroke-width="1.15"/>
<rect x="266.65" y="945.75" width="5.1" height="5.1" fill="none" stroke="#828282" stroke-width="1.15"/>
<path d="M299.80 922.00 L303.40 928.66 L296.20 928.66 Z" fill="none" stroke="#828282" stroke-width="1.15"/>
<path d="M301.00 928.40 L304.60 935.06 L297.40 935.06 Z" fill="none" stroke="#828282" stroke-width="1.15"/>
<path d="M298.00 932.80 L301.60 939.46 L294.40 939.46 Z" fill="none" stroke="#828282" stroke-width="1.15"/>
<path d="M302.40 935.70 L306.00 942.36 L298.80 942.36 Z" fill="none" stroke="#828282" stroke-width="1.15"/>
<path d="M299.50 938.70 L303.10 945.36 L295.90 945.36 Z" fill="none" stroke="#828282" stroke-width="1.15"/>
<path d="M297.20 942.50 L300.80 949.16 L293.60 949.16 Z" fill="none" stroke="#828282" stroke-width="1.15"/>
<circle cx="330.70" cy="826.80" r="3.0" fill="none" stroke="#828282" stroke-width="1.15"/>
<circle cx="330.40" cy="828.80" r="3.0" fill="none" stroke="#828282" stroke-width="1.15"/>
<circle cx="329.30" cy="842.50" r="3.0" fill="none" stroke="#828282" stroke-width="1.15"/>
<circle cx="332.20" cy="868.20" r="3.0" fill="none" stroke="#828282" stroke-width="1.15"/>
<circle cx="329.60" cy="873.50" r="3.0" fill="none" stroke="#828282" stroke-width="1.15"/>
<circle cx="330.70" cy="934.80" r="3.0" fill="none" stroke="#828282" stroke-width="1.15"/>
<line x1="258.20" y1="944.20" x2="279.00" y2="944.20" stroke="#000" stroke-width="1.3"/><line x1="268.60" y1="942.70" x2="268.60" y2="945.70" stroke="#000" stroke-width="1.15"/><line x1="263.40" y1="942.70" x2="273.80" y2="942.70" stroke="#000" stroke-width="1.15"/><line x1="263.40" y1="945.70" x2="273.80" y2="945.70" stroke="#000" stroke-width="1.15"/>
<line x1="289.10" y1="938.30" x2="309.90" y2="938.30" stroke="#000" stroke-width="1.3"/><line x1="299.50" y1="935.40" x2="299.50" y2="941.20" stroke="#000" stroke-width="1.15"/><line x1="294.30" y1="935.40" x2="304.70" y2="935.40" stroke="#000" stroke-width="1.15"/><line x1="294.30" y1="941.20" x2="304.70" y2="941.20" stroke="#000" stroke-width="1.15"/>
<line x1="320.30" y1="863.00" x2="341.10" y2="863.00" stroke="#000" stroke-width="1.3"/><line x1="330.70" y1="848.90" x2="330.70" y2="877.30" stroke="#000" stroke-width="1.15"/><line x1="325.50" y1="848.90" x2="335.90" y2="848.90" stroke="#000" stroke-width="1.15"/><line x1="325.50" y1="877.30" x2="335.90" y2="877.30" stroke="#000" stroke-width="1.15"/>
<line x1="272.30" y1="807.80" x2="330.70" y2="807.80" stroke="#888" stroke-width="0.7"/><text x="301.50" y="811.10" font-size="12" font-weight="700" text-anchor="middle">***</text>
<line x1="302.40" y1="817.10" x2="330.70" y2="817.10" stroke="#333" stroke-width="0.7"/><text x="316.55" y="820.40" font-size="12" font-weight="700" text-anchor="middle">***</text>
<path d="M413.8 805.4 L413.8 981.2 L516.0 981.2" fill="none" stroke="#000" stroke-width="1.3"/><text x="407.80" y="983.78" font-size="7.2" text-anchor="end" fill="#222" stroke="#222" stroke-width="0.158">0.0</text><text x="407.80" y="944.81" font-size="7.2" text-anchor="end" fill="#222" stroke="#222" stroke-width="0.158">0.5</text><text x="407.80" y="905.84" font-size="7.2" text-anchor="end" fill="#222" stroke="#222" stroke-width="0.158">1.0</text><text x="407.80" y="866.87" font-size="7.2" text-anchor="end" fill="#222" stroke="#222" stroke-width="0.158">1.5</text><text x="407.80" y="827.90" font-size="7.2" text-anchor="end" fill="#222" stroke="#222" stroke-width="0.158">2.0</text><text x="428.20" y="991.46" font-size="8.0" text-anchor="middle" stroke="#000" stroke-width="0.176">Sal</text><text x="459.00" y="991.46" font-size="8.0" text-anchor="middle" stroke="#000" stroke-width="0.176">4hr</text><text x="491.50" y="991.46" font-size="8.0" text-anchor="middle" stroke="#000" stroke-width="0.176">24hr</text><path d="M413.8 981.20 h-3 M413.8 942.23 h-3 M413.8 903.26 h-3 M413.8 864.29 h-3 M413.8 825.32 h-3 M413.8 961.72 h-1.7 M413.8 922.75 h-1.7 M413.8 883.78 h-1.7 M413.8 844.81 h-1.7 M413.8 805.84 h-1.7 M429.20 981.2 v3.2 M460.20 981.2 v3.2 M491.20 981.2 v3.2" stroke="#000" stroke-width="1.1" fill="none"/><text transform="translate(394.84 891.60) rotate(-90)" font-size="8.2" text-anchor="middle" stroke="#000" stroke-width="0.279">Fold Change</text>
<rect x="423.45" y="900.65" width="5.1" height="5.1" fill="none" stroke="#828282" stroke-width="1.15"/>
<rect x="428.25" y="900.65" width="5.1" height="5.1" fill="none" stroke="#828282" stroke-width="1.15"/>
<path d="M459.90 813.70 L463.50 820.36 L456.30 820.36 Z" fill="none" stroke="#828282" stroke-width="1.15"/>
<path d="M457.60 883.20 L461.20 889.86 L454.00 889.86 Z" fill="none" stroke="#828282" stroke-width="1.15"/>
<path d="M461.40 896.90 L465.00 903.56 L457.80 903.56 Z" fill="none" stroke="#828282" stroke-width="1.15"/>
<path d="M455.50 900.70 L459.10 907.36 L451.90 907.36 Z" fill="none" stroke="#828282" stroke-width="1.15"/>
<path d="M457.00 905.70 L460.60 912.36 L453.40 912.36 Z" fill="none" stroke="#828282" stroke-width="1.15"/>
<path d="M461.40 908.60 L465.00 915.26 L457.80 915.26 Z" fill="none" stroke="#828282" stroke-width="1.15"/>
<path d="M461.40 914.40 L465.00 921.06 L457.80 921.06 Z" fill="none" stroke="#828282" stroke-width="1.15"/>
<circle cx="491.20" cy="920.50" r="3.0" fill="none" stroke="#828282" stroke-width="1.15"/>
<circle cx="492.00" cy="929.50" r="3.0" fill="none" stroke="#828282" stroke-width="1.15"/>
<circle cx="491.20" cy="941.80" r="3.0" fill="none" stroke="#828282" stroke-width="1.15"/>
<circle cx="489.70" cy="944.70" r="3.0" fill="none" stroke="#828282" stroke-width="1.15"/>
<circle cx="489.70" cy="958.10" r="3.0" fill="none" stroke="#828282" stroke-width="1.15"/>
<circle cx="491.20" cy="965.40" r="3.0" fill="none" stroke="#828282" stroke-width="1.15"/>
<line x1="418.40" y1="903.20" x2="439.20" y2="903.20" stroke="#000" stroke-width="1.3"/>
<line x1="449.60" y1="893.90" x2="470.40" y2="893.90" stroke="#000" stroke-width="1.3"/><line x1="460.00" y1="880.80" x2="460.00" y2="907.00" stroke="#000" stroke-width="1.15"/><line x1="454.80" y1="880.80" x2="465.20" y2="880.80" stroke="#000" stroke-width="1.15"/><line x1="454.80" y1="907.00" x2="465.20" y2="907.00" stroke="#000" stroke-width="1.15"/>
<line x1="481.10" y1="942.70" x2="501.90" y2="942.70" stroke="#000" stroke-width="1.3"/><line x1="491.50" y1="936.80" x2="491.50" y2="948.50" stroke="#000" stroke-width="1.15"/><line x1="486.30" y1="936.80" x2="496.70" y2="936.80" stroke="#000" stroke-width="1.15"/><line x1="486.30" y1="948.50" x2="496.70" y2="948.50" stroke="#000" stroke-width="1.15"/>
<line x1="434.80" y1="807.80" x2="494.10" y2="807.80" stroke="#888" stroke-width="0.7"/><text x="464.45" y="811.10" font-size="12" font-weight="700" text-anchor="middle">*</text>
<line x1="466.40" y1="817.10" x2="494.10" y2="817.10" stroke="#333" stroke-width="0.7"/><text x="480.25" y="820.40" font-size="12" font-weight="700" text-anchor="middle">*</text>
<path d="M573.9 805.8 L573.9 981.2 L678.2 981.2" fill="none" stroke="#000" stroke-width="1.3"/><text x="567.90" y="983.78" font-size="7.2" text-anchor="end" fill="#222" stroke="#222" stroke-width="0.158">0</text><text x="567.90" y="956.85" font-size="7.2" text-anchor="end" fill="#222" stroke="#222" stroke-width="0.158">500</text><text x="567.90" y="929.92" font-size="7.2" text-anchor="end" fill="#222" stroke="#222" stroke-width="0.158">1000</text><text x="567.90" y="902.99" font-size="7.2" text-anchor="end" fill="#222" stroke="#222" stroke-width="0.158">1500</text><text x="567.90" y="876.06" font-size="7.2" text-anchor="end" fill="#222" stroke="#222" stroke-width="0.158">2000</text><text x="567.90" y="849.13" font-size="7.2" text-anchor="end" fill="#222" stroke="#222" stroke-width="0.158">2500</text><text x="567.90" y="822.20" font-size="7.2" text-anchor="end" fill="#222" stroke="#222" stroke-width="0.158">3000</text><text x="588.00" y="991.26" font-size="8.0" text-anchor="middle" stroke="#000" stroke-width="0.176">Sal</text><text x="619.40" y="991.26" font-size="8.0" text-anchor="middle" stroke="#000" stroke-width="0.176">4hr</text><text x="651.90" y="991.26" font-size="8.0" text-anchor="middle" stroke="#000" stroke-width="0.176">24hr</text><path d="M573.9 981.20 h-3 M573.9 954.27 h-3 M573.9 927.34 h-3 M573.9 900.41 h-3 M573.9 873.48 h-3 M573.9 846.55 h-3 M573.9 819.62 h-3 M573.9 967.74 h-1.7 M573.9 940.81 h-1.7 M573.9 913.88 h-1.7 M573.9 886.95 h-1.7 M573.9 860.02 h-1.7 M573.9 833.09 h-1.7 M573.9 806.16 h-1.7 M589.50 981.2 v3.2 M620.50 981.2 v3.2 M651.60 981.2 v3.2" stroke="#000" stroke-width="1.1" fill="none"/><text transform="translate(547.64 893.60) rotate(-90)" font-size="8.2" text-anchor="middle" stroke="#000" stroke-width="0.279">Median Fluorescence Intensity (Arb. Units)</text>
<rect x="589.25" y="830.45" width="5.1" height="5.1" fill="none" stroke="#828282" stroke-width="1.15"/>
<rect x="583.55" y="854.45" width="5.1" height="5.1" fill="none" stroke="#828282" stroke-width="1.15"/>
<rect x="584.45" y="862.75" width="5.1" height="5.1" fill="none" stroke="#828282" stroke-width="1.15"/>
<rect x="587.45" y="868.85" width="5.1" height="5.1" fill="none" stroke="#828282" stroke-width="1.15"/>
<rect x="586.25" y="878.15" width="5.1" height="5.1" fill="none" stroke="#828282" stroke-width="1.15"/>
<path d="M621.70 847.80 L625.30 854.46 L618.10 854.46 Z" fill="none" stroke="#828282" stroke-width="1.15"/>
<path d="M619.40 852.30 L623.00 858.96 L615.80 858.96 Z" fill="none" stroke="#828282" stroke-width="1.15"/>
<path d="M618.30 856.80 L621.90 863.46 L614.70 863.46 Z" fill="none" stroke="#828282" stroke-width="1.15"/>
<path d="M620.50 863.60 L624.10 870.26 L616.90 870.26 Z" fill="none" stroke="#828282" stroke-width="1.15"/>
<path d="M622.30 867.00 L625.90 873.66 L618.70 873.66 Z" fill="none" stroke="#828282" stroke-width="1.15"/>
<path d="M616.70 872.70 L620.30 879.36 L613.10 879.36 Z" fill="none" stroke="#828282" stroke-width="1.15"/>
<path d="M622.10 871.50 L625.70 878.16 L618.50 878.16 Z" fill="none" stroke="#828282" stroke-width="1.15"/>
<circle cx="651.50" cy="826.40" r="3.0" fill="none" stroke="#828282" stroke-width="1.15"/>
<circle cx="651.10" cy="831.80" r="3.0" fill="none" stroke="#828282" stroke-width="1.15"/>
<circle cx="650.60" cy="847.90" r="3.0" fill="none" stroke="#828282" stroke-width="1.15"/>
<circle cx="652.20" cy="856.30" r="3.0" fill="none" stroke="#828282" stroke-width="1.15"/>
<circle cx="650.60" cy="876.20" r="3.0" fill="none" stroke="#828282" stroke-width="1.15"/>
<line x1="579.00" y1="863.10" x2="599.80" y2="863.10" stroke="#000" stroke-width="1.3"/><line x1="589.40" y1="857.40" x2="589.40" y2="869.20" stroke="#000" stroke-width="1.15"/><line x1="584.20" y1="857.40" x2="594.60" y2="857.40" stroke="#000" stroke-width="1.15"/><line x1="584.20" y1="869.20" x2="594.60" y2="869.20" stroke="#000" stroke-width="1.15"/>
<line x1="609.90" y1="863.80" x2="630.70" y2="863.80" stroke="#000" stroke-width="1.3"/><line x1="620.30" y1="859.70" x2="620.30" y2="867.60" stroke="#000" stroke-width="1.15"/><line x1="615.10" y1="859.70" x2="625.50" y2="859.70" stroke="#000" stroke-width="1.15"/><line x1="615.10" y1="867.60" x2="625.50" y2="867.60" stroke="#000" stroke-width="1.15"/>
<line x1="640.90" y1="846.60" x2="661.70" y2="846.60" stroke="#000" stroke-width="1.3"/><line x1="651.30" y1="839.80" x2="651.30" y2="853.30" stroke="#000" stroke-width="1.15"/><line x1="646.10" y1="839.80" x2="656.50" y2="839.80" stroke="#000" stroke-width="1.15"/><line x1="646.10" y1="853.30" x2="656.50" y2="853.30" stroke="#000" stroke-width="1.15"/>
</svg>
</body></html>
